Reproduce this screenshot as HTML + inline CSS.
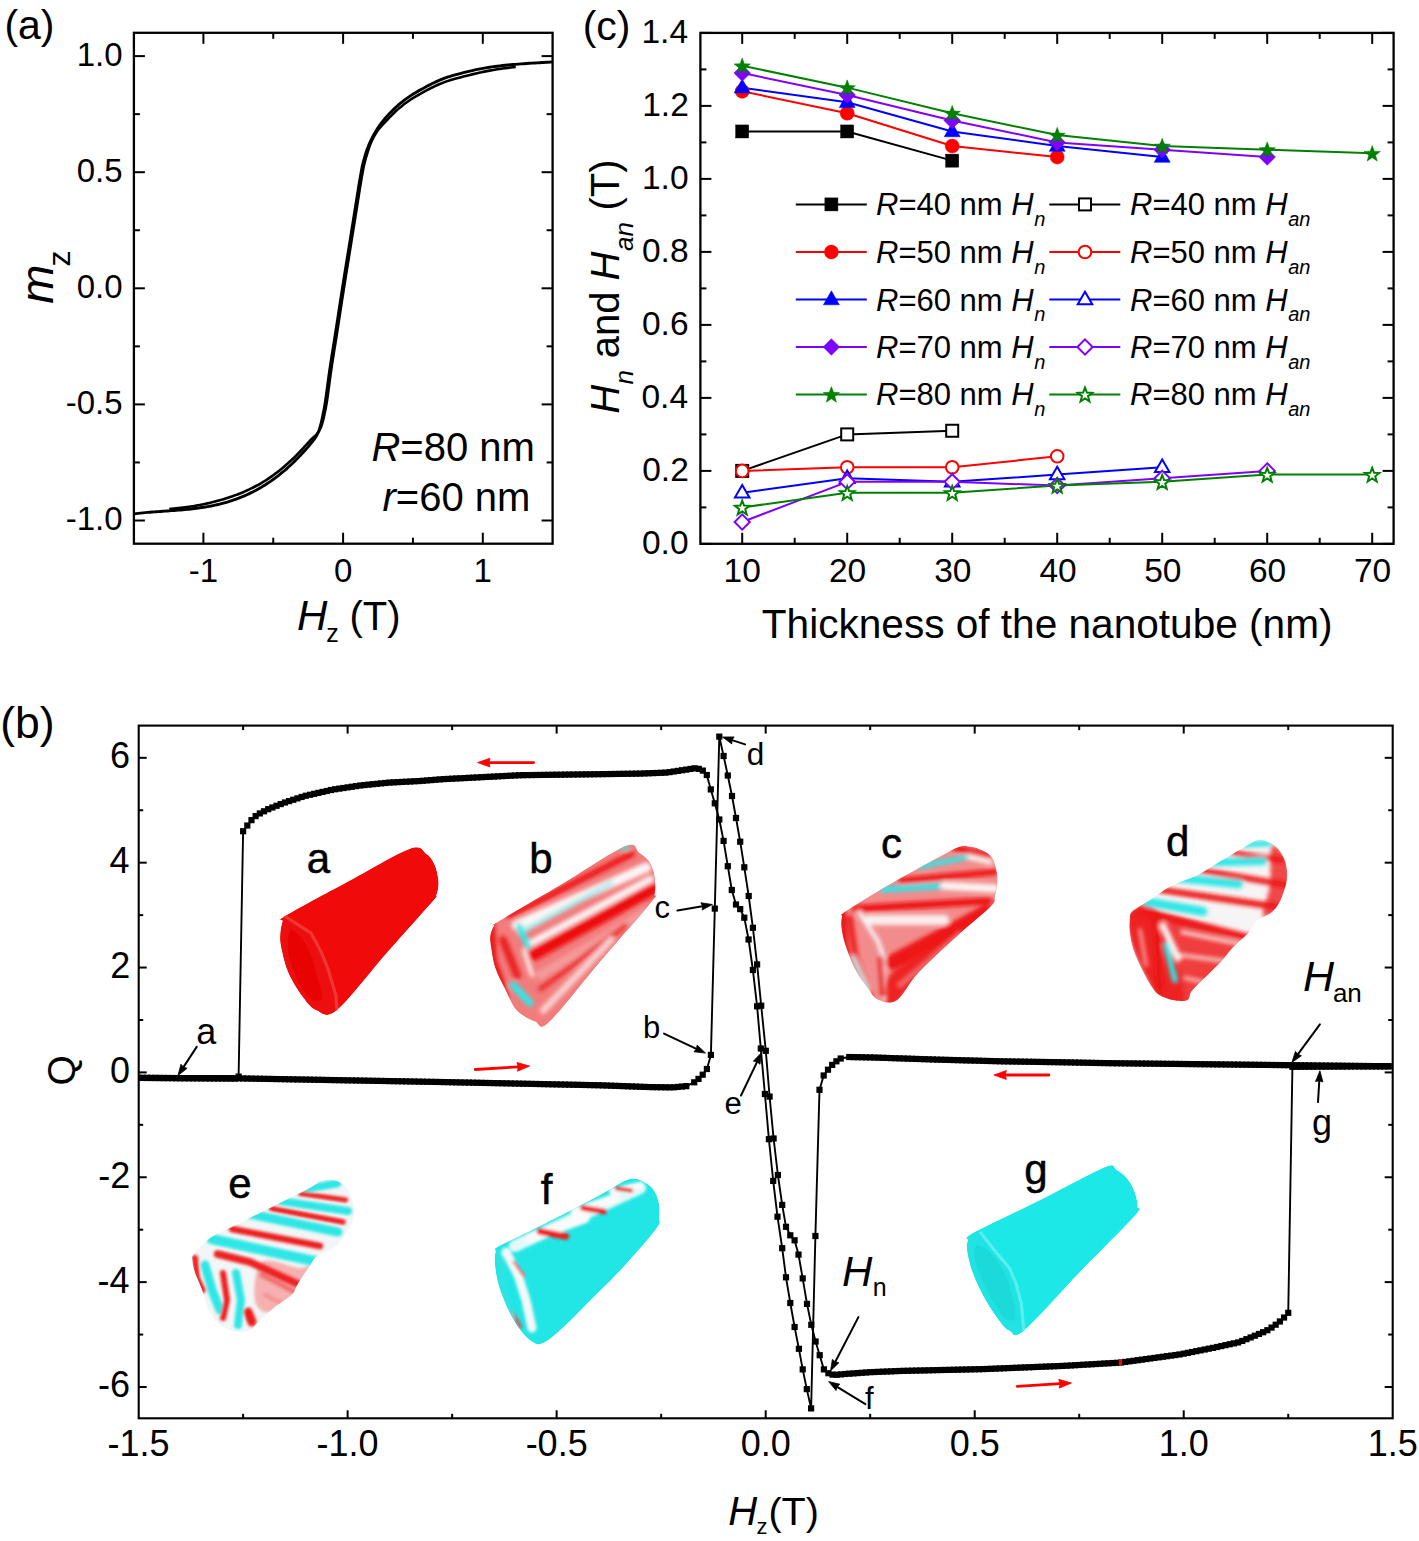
<!DOCTYPE html>
<html><head><meta charset="utf-8"><style>
html,body{margin:0;padding:0;background:#fff;}
svg{display:block;font-family:"Liberation Sans", sans-serif;}
</style></head><body>
<svg width="1419" height="1541" viewBox="0 0 1419 1541">
<rect width="1419" height="1541" fill="#fff"/>
<rect x="133.9" y="32.8" width="418.7" height="510.9" fill="none" stroke="#000" stroke-width="2.3"/>
<line x1="203.4" y1="543.7" x2="203.4" y2="532.7" stroke="#000" stroke-width="2" />
<line x1="203.4" y1="32.8" x2="203.4" y2="43.8" stroke="#000" stroke-width="2" />
<line x1="343.1" y1="543.7" x2="343.1" y2="532.7" stroke="#000" stroke-width="2" />
<line x1="343.1" y1="32.8" x2="343.1" y2="43.8" stroke="#000" stroke-width="2" />
<line x1="482.8" y1="543.7" x2="482.8" y2="532.7" stroke="#000" stroke-width="2" />
<line x1="482.8" y1="32.8" x2="482.8" y2="43.8" stroke="#000" stroke-width="2" />
<line x1="273.25" y1="543.7" x2="273.25" y2="537.7" stroke="#000" stroke-width="2" />
<line x1="273.25" y1="32.8" x2="273.25" y2="38.8" stroke="#000" stroke-width="2" />
<line x1="412.95" y1="543.7" x2="412.95" y2="537.7" stroke="#000" stroke-width="2" />
<line x1="412.95" y1="32.8" x2="412.95" y2="38.8" stroke="#000" stroke-width="2" />
<line x1="133.9" y1="520.5" x2="144.9" y2="520.5" stroke="#000" stroke-width="2" />
<line x1="552.6" y1="520.5" x2="541.6" y2="520.5" stroke="#000" stroke-width="2" />
<line x1="133.9" y1="404.4" x2="144.9" y2="404.4" stroke="#000" stroke-width="2" />
<line x1="552.6" y1="404.4" x2="541.6" y2="404.4" stroke="#000" stroke-width="2" />
<line x1="133.9" y1="288.3" x2="144.9" y2="288.3" stroke="#000" stroke-width="2" />
<line x1="552.6" y1="288.3" x2="541.6" y2="288.3" stroke="#000" stroke-width="2" />
<line x1="133.9" y1="172.2" x2="144.9" y2="172.2" stroke="#000" stroke-width="2" />
<line x1="552.6" y1="172.2" x2="541.6" y2="172.2" stroke="#000" stroke-width="2" />
<line x1="133.9" y1="56.1" x2="144.9" y2="56.1" stroke="#000" stroke-width="2" />
<line x1="552.6" y1="56.1" x2="541.6" y2="56.1" stroke="#000" stroke-width="2" />
<line x1="133.9" y1="462.45" x2="139.9" y2="462.45" stroke="#000" stroke-width="2" />
<line x1="552.6" y1="462.45" x2="546.6" y2="462.45" stroke="#000" stroke-width="2" />
<line x1="133.9" y1="346.35" x2="139.9" y2="346.35" stroke="#000" stroke-width="2" />
<line x1="552.6" y1="346.35" x2="546.6" y2="346.35" stroke="#000" stroke-width="2" />
<line x1="133.9" y1="230.25" x2="139.9" y2="230.25" stroke="#000" stroke-width="2" />
<line x1="552.6" y1="230.25" x2="546.6" y2="230.25" stroke="#000" stroke-width="2" />
<line x1="133.9" y1="114.15" x2="139.9" y2="114.15" stroke="#000" stroke-width="2" />
<line x1="552.6" y1="114.15" x2="546.6" y2="114.15" stroke="#000" stroke-width="2" />
<text x="76.7" y="65.7" font-size="33" fill="#000" >1.0</text>
<text x="76.7" y="181.8" font-size="33" fill="#000" >0.5</text>
<text x="76.7" y="297.9" font-size="33" fill="#000" >0.0</text>
<text x="65.7" y="414" font-size="33" fill="#000" >-0.5</text>
<text x="65.7" y="530.1" font-size="33" fill="#000" >-1.0</text>
<text x="203.4" y="581.7" font-size="33" fill="#000" text-anchor="middle">-1</text>
<text x="343.1" y="581.7" font-size="33" fill="#000" text-anchor="middle">0</text>
<text x="482.8" y="581.7" font-size="33" fill="#000" text-anchor="middle">1</text>
<text x="4.4" y="38.7" font-size="41" fill="#000" >(a)</text>
<text x="371.45" y="460.7" font-size="40" font-style="italic" fill="#000" >R</text>
<text x="400.34" y="460.7" font-size="40">=80 nm</text>
<text x="382.55" y="510.8" font-size="40" font-style="italic" fill="#000" >r</text>
<text x="395.87" y="510.8" font-size="40">=60 nm</text>
<text x="296.95" y="629.9" font-size="42" font-style="italic" fill="#000" >H</text>
<text x="326.2" y="642" font-size="25" fill="#000" >z</text>
<text x="349.5" y="629.9" font-size="40" fill="#000" >(T)</text>
<g transform="translate(53.3,302.9) rotate(-90)"><text x="-0.75" y="0" font-size="47" font-style="italic" fill="#000" >m</text></g>
<g transform="translate(70.2,265.2) rotate(-90)"><text x="-1.25" y="0" font-size="32" fill="#000" >z</text></g>
<clipPath id="ca"><rect x="133.9" y="32.8" width="418.7" height="510.9"/></clipPath>
<g clip-path="url(#ca)">
<polyline points="133,514 134.31,513.86 136.05,513.66 138.13,513.43 140.44,513.17 142.88,512.91 145.35,512.65 147.76,512.41 150,512.2 152.12,512.02 154.23,511.86 156.33,511.71 158.44,511.58 160.55,511.44 162.68,511.3 164.83,511.16 167,511 169.22,510.84 171.5,510.67 173.81,510.51 176.12,510.34 178.43,510.16 180.69,509.98 182.89,509.8 185,509.6 187.02,509.4 188.96,509.2 190.84,508.99 192.69,508.78 194.51,508.55 196.32,508.32 198.15,508.07 200,507.8 201.88,507.52 203.75,507.24 205.62,506.95 207.5,506.64 209.38,506.31 211.25,505.97 213.12,505.6 215,505.2 216.88,504.78 218.75,504.34 220.62,503.87 222.5,503.39 224.38,502.88 226.25,502.35 228.12,501.79 230,501.2 231.88,500.59 233.75,499.96 235.62,499.31 237.5,498.62 239.38,497.92 241.25,497.18 243.12,496.41 245,495.6 246.9,494.75 248.82,493.84 250.76,492.9 252.69,491.93 254.59,490.95 256.46,489.95 258.27,488.97 260,488 261.64,487.05 263.21,486.12 264.72,485.19 266.19,484.26 267.63,483.31 269.07,482.34 270.52,481.34 272,480.3 273.51,479.22 275.02,478.11 276.54,476.96 278.06,475.8 279.57,474.62 281.07,473.42 282.55,472.21 284,471 285.43,469.78 286.84,468.54 288.24,467.29 289.62,466.02 290.99,464.75 292.34,463.47 293.68,462.19 295,460.9 296.33,459.58 297.66,458.22 299,456.84 300.31,455.46 301.59,454.11 302.8,452.8 303.95,451.55 305,450.4 305.95,449.34 306.82,448.36 307.61,447.43 308.34,446.56 309.04,445.72 309.7,444.9 310.35,444.1 311,443.3 311.64,442.52 312.26,441.78 312.85,441.07 313.42,440.38 313.97,439.68 314.49,438.98 315.01,438.26 315.5,437.5 315.98,436.71 316.44,435.9 316.87,435.08 317.29,434.24 317.7,433.4 318.08,432.54 318.45,431.67 318.8,430.8 319.13,429.93 319.43,429.06 319.71,428.18 319.98,427.29 320.24,426.39 320.49,425.46 320.74,424.5 321,423.5 321.26,422.49 321.5,421.5 321.74,420.49 321.98,419.45 322.21,418.35 322.46,417.18 322.72,415.9 323,414.5 323.28,413.07 323.57,411.66 323.86,410.2 324.16,408.64 324.47,406.91 324.82,404.94 325.19,402.65 325.6,400 326.04,396.95 326.51,393.56 327,389.88 327.52,385.96 328.07,381.83 328.64,377.54 329.26,373.15 329.9,368.7 330.59,364.1 331.34,359.28 332.12,354.28 332.93,349.16 333.76,343.97 334.59,338.76 335.4,333.59 336.2,328.5 336.98,323.46 337.76,318.38 338.54,313.3 339.32,308.22 340.09,303.17 340.87,298.15 341.64,293.19 342.4,288.3 343.16,283.49 343.91,278.75 344.66,274.07 345.41,269.42 346.16,264.79 346.9,260.18 347.65,255.55 348.4,250.9 349.15,246.23 349.9,241.57 350.65,236.9 351.4,232.24 352.15,227.58 352.9,222.92 353.65,218.26 354.4,213.6 355.17,208.81 355.95,203.84 356.75,198.79 357.54,193.78 358.31,188.92 359.05,184.33 359.76,180.12 360.4,176.4 360.96,173.25 361.44,170.6 361.87,168.33 362.27,166.33 362.68,164.48 363.12,162.67 363.62,160.78 364.2,158.7 364.85,156.49 365.52,154.27 366.23,152.06 366.98,149.84 367.79,147.63 368.65,145.42 369.59,143.21 370.6,141 371.69,138.78 372.85,136.54 374.08,134.3 375.37,132.06 376.72,129.84 378.13,127.65 379.59,125.5 381.1,123.4 382.69,121.33 384.37,119.28 386.12,117.25 387.93,115.26 389.75,113.31 391.59,111.43 393.41,109.62 395.2,107.9 396.96,106.27 398.72,104.71 400.49,103.23 402.25,101.81 404.01,100.44 405.77,99.12 407.54,97.85 409.3,96.6 411.06,95.4 412.82,94.27 414.59,93.18 416.35,92.14 418.11,91.13 419.88,90.14 421.64,89.17 423.4,88.2 425.16,87.24 426.92,86.29 428.69,85.36 430.45,84.45 432.21,83.57 433.97,82.71 435.74,81.89 437.5,81.1 439.19,80.37 440.78,79.69 442.33,79.05 443.9,78.44 445.55,77.84 447.34,77.23 449.34,76.58 451.6,75.9 454.19,75.15 457.07,74.36 460.17,73.53 463.41,72.69 466.7,71.87 469.96,71.08 473.12,70.35 476.1,69.7 478.91,69.12 481.63,68.6 484.3,68.13 486.91,67.69 489.5,67.29 492.08,66.91 494.68,66.55 497.3,66.2 499.94,65.87 502.58,65.56 505.22,65.28 507.85,65.02 510.48,64.77 513.12,64.54 515.76,64.32 518.4,64.1 521.1,63.89 523.86,63.69 526.66,63.5 529.45,63.32 532.18,63.15 534.81,62.99 537.3,62.84 539.6,62.7 541.78,62.57 543.91,62.44 545.96,62.32 547.88,62.21 549.63,62.12 551.17,62.03 552.48,61.96 553.5,61.9" fill="none" stroke="#000" stroke-width="2.9" stroke-linejoin="round" />
<polyline points="169.22,508.95 171.5,508.77 173.81,508.58 176.12,508.37 178.43,508.15 180.69,507.91 182.89,507.65 185,507.38 187.02,507.11 188.96,506.83 190.84,506.54 192.69,506.24 194.51,505.94 196.32,505.62 198.15,505.28 200,504.92 201.88,504.55 203.75,504.18 205.62,503.79 207.5,503.39 209.38,502.97 211.25,502.54 213.12,502.08 215,501.6 216.88,501.1 218.75,500.58 220.62,500.04 222.5,499.49 224.38,498.92 226.25,498.33 228.12,497.72 230,497.09 231.88,496.45 233.75,495.79 235.62,495.12 237.5,494.43 239.38,493.72 241.25,492.98 243.12,492.21 245,491.4 246.9,490.55 248.82,489.64 250.76,488.7 252.69,487.73 254.59,486.75 256.46,485.75 258.27,484.77 260,483.8 261.64,482.85 263.21,481.92 264.72,480.99 266.19,480.06 267.63,479.11 269.07,478.14 270.52,477.14 272,476.1 273.51,475.02 275.02,473.91 276.54,472.76 278.06,471.6 279.57,470.42 281.07,469.22 282.55,468.01 284,466.8 285.43,465.58 286.84,464.34 288.24,463.09 289.62,461.82 290.99,460.55 292.34,459.27 293.68,457.99 295,456.7 296.33,455.38 297.66,454.02 299,452.64 300.31,451.26 301.59,449.91 302.8,448.6 303.95,447.35 305,446.2 305.96,445.14 306.85,444.16 307.68,443.23 308.47,442.36 309.22,441.52 309.95,440.7 310.67,439.93 311.39,439.19 312.11,438.5 312.81,437.87 313.48,437.29 314.12,436.74 314.74,436.2 315.34,435.66 315.92,435.1 316.48,434.5 317.02,433.88 317.53,433.24 318.02,432.58 318.49,431.9 318.93,431.2 319.36,430.49 319.76,429.76 320.14,429.02 320.5,428.27 320.83,427.51 321.13,426.73 321.41,425.94 321.68,425.13 321.95,424.28 322.21,423.41 322.48,422.49 322.74,421.57 322.99,420.65 323.24,419.72 323.47,418.75 323.71,417.72 323.96,416.61 324.22,415.4 324.5,414.07 324.78,412.7 325.07,411.35 325.36,409.96 325.66,408.45 325.97,406.77 326.32,404.84 326.69,402.6 327.1,399.98 327.54,396.95 328.01,393.56 328.5,389.88 329.02,385.96 329.57,381.83 330.14,377.54 330.76,373.15 331.4,368.7 332.09,364.1 332.84,359.28 333.62,354.28 334.43,349.16 335.26,343.97 336.09,338.76 336.9,333.59 337.7,328.5 338.48,323.46 339.26,318.38 340.04,313.3 340.82,308.22 341.59,303.17 342.37,298.15 343.14,293.19 343.9,288.3 344.66,283.49 345.41,278.75 346.16,274.07 346.91,269.42 347.66,264.79 348.4,260.18 349.15,255.55 349.9,250.9 350.65,246.23 351.4,241.57 352.15,236.9 352.9,232.24 353.65,227.58 354.4,222.92 355.15,218.26 355.9,213.6 356.67,208.81 357.45,203.84 358.25,198.79 359.04,193.78 359.81,188.92 360.55,184.33 361.26,180.12 361.9,176.4 362.46,173.25 362.94,170.6 363.37,168.33 363.77,166.33 364.18,164.48 364.62,162.67 365.12,160.78 365.7,158.7 366.34,156.49 366.99,154.27 367.66,152.06 368.36,149.84 369.1,147.65 369.87,145.5 370.7,143.39 371.59,141.33 372.54,139.31 373.55,137.32 374.61,135.37 375.74,133.47 376.94,131.62 378.23,129.82 379.61,128.07 381.1,126.36 382.69,124.65 384.37,122.9 386.12,121.08 387.93,119.16 389.75,117.21 391.59,115.33 393.41,113.52 395.2,111.8 396.96,110.17 398.72,108.61 400.49,107.13 402.25,105.71 404.01,104.34 405.77,103.02 407.54,101.75 409.3,100.5 411.06,99.3 412.82,98.17 414.59,97.08 416.35,96.04 418.11,95.03 419.88,94.04 421.64,93.07 423.4,92.1 425.16,91.14 426.92,90.19 428.69,89.26 430.45,88.35 432.21,87.47 433.97,86.61 435.74,85.79 437.5,85 439.19,84.27 440.78,83.59 442.33,82.95 443.9,82.34 445.55,81.74 447.34,81.13 449.34,80.48 451.6,79.8 454.19,79.05 457.07,78.26 460.17,77.43 463.41,76.59 466.7,75.75 469.96,74.92 473.12,74.13 476.1,73.41 478.91,72.76 481.63,72.17 484.3,71.61 486.91,71.1 489.5,70.62 492.08,70.16 494.68,69.71 497.3,69.28 499.94,68.88 502.58,68.5 505.22,68.16 507.85,67.85 510.48,67.56 513.12,67.3 515.76,67.05" fill="none" stroke="#000" stroke-width="2.6" stroke-linejoin="round" />
</g>
<rect x="700.4" y="32.9" width="693.2" height="510.9" fill="none" stroke="#000" stroke-width="2.3"/>
<line x1="742.2" y1="543.8" x2="742.2" y2="532.8" stroke="#000" stroke-width="2" />
<line x1="742.2" y1="32.9" x2="742.2" y2="43.9" stroke="#000" stroke-width="2" />
<line x1="847.2" y1="543.8" x2="847.2" y2="532.8" stroke="#000" stroke-width="2" />
<line x1="847.2" y1="32.9" x2="847.2" y2="43.9" stroke="#000" stroke-width="2" />
<line x1="952.2" y1="543.8" x2="952.2" y2="532.8" stroke="#000" stroke-width="2" />
<line x1="952.2" y1="32.9" x2="952.2" y2="43.9" stroke="#000" stroke-width="2" />
<line x1="1057.2" y1="543.8" x2="1057.2" y2="532.8" stroke="#000" stroke-width="2" />
<line x1="1057.2" y1="32.9" x2="1057.2" y2="43.9" stroke="#000" stroke-width="2" />
<line x1="1162.2" y1="543.8" x2="1162.2" y2="532.8" stroke="#000" stroke-width="2" />
<line x1="1162.2" y1="32.9" x2="1162.2" y2="43.9" stroke="#000" stroke-width="2" />
<line x1="1267.2" y1="543.8" x2="1267.2" y2="532.8" stroke="#000" stroke-width="2" />
<line x1="1267.2" y1="32.9" x2="1267.2" y2="43.9" stroke="#000" stroke-width="2" />
<line x1="1372.2" y1="543.8" x2="1372.2" y2="532.8" stroke="#000" stroke-width="2" />
<line x1="1372.2" y1="32.9" x2="1372.2" y2="43.9" stroke="#000" stroke-width="2" />
<line x1="794.7" y1="543.8" x2="794.7" y2="537.8" stroke="#000" stroke-width="2" />
<line x1="794.7" y1="32.9" x2="794.7" y2="38.9" stroke="#000" stroke-width="2" />
<line x1="899.7" y1="543.8" x2="899.7" y2="537.8" stroke="#000" stroke-width="2" />
<line x1="899.7" y1="32.9" x2="899.7" y2="38.9" stroke="#000" stroke-width="2" />
<line x1="1004.7" y1="543.8" x2="1004.7" y2="537.8" stroke="#000" stroke-width="2" />
<line x1="1004.7" y1="32.9" x2="1004.7" y2="38.9" stroke="#000" stroke-width="2" />
<line x1="1109.7" y1="543.8" x2="1109.7" y2="537.8" stroke="#000" stroke-width="2" />
<line x1="1109.7" y1="32.9" x2="1109.7" y2="38.9" stroke="#000" stroke-width="2" />
<line x1="1214.7" y1="543.8" x2="1214.7" y2="537.8" stroke="#000" stroke-width="2" />
<line x1="1214.7" y1="32.9" x2="1214.7" y2="38.9" stroke="#000" stroke-width="2" />
<line x1="1319.7" y1="543.8" x2="1319.7" y2="537.8" stroke="#000" stroke-width="2" />
<line x1="1319.7" y1="32.9" x2="1319.7" y2="38.9" stroke="#000" stroke-width="2" />
<line x1="700.4" y1="543.9" x2="711.4" y2="543.9" stroke="#000" stroke-width="2" />
<line x1="1393.6" y1="543.9" x2="1382.6" y2="543.9" stroke="#000" stroke-width="2" />
<line x1="700.4" y1="507.4" x2="706.4" y2="507.4" stroke="#000" stroke-width="2" />
<line x1="1393.6" y1="507.4" x2="1387.6" y2="507.4" stroke="#000" stroke-width="2" />
<line x1="700.4" y1="470.9" x2="711.4" y2="470.9" stroke="#000" stroke-width="2" />
<line x1="1393.6" y1="470.9" x2="1382.6" y2="470.9" stroke="#000" stroke-width="2" />
<line x1="700.4" y1="434.4" x2="706.4" y2="434.4" stroke="#000" stroke-width="2" />
<line x1="1393.6" y1="434.4" x2="1387.6" y2="434.4" stroke="#000" stroke-width="2" />
<line x1="700.4" y1="397.9" x2="711.4" y2="397.9" stroke="#000" stroke-width="2" />
<line x1="1393.6" y1="397.9" x2="1382.6" y2="397.9" stroke="#000" stroke-width="2" />
<line x1="700.4" y1="361.4" x2="706.4" y2="361.4" stroke="#000" stroke-width="2" />
<line x1="1393.6" y1="361.4" x2="1387.6" y2="361.4" stroke="#000" stroke-width="2" />
<line x1="700.4" y1="324.9" x2="711.4" y2="324.9" stroke="#000" stroke-width="2" />
<line x1="1393.6" y1="324.9" x2="1382.6" y2="324.9" stroke="#000" stroke-width="2" />
<line x1="700.4" y1="288.4" x2="706.4" y2="288.4" stroke="#000" stroke-width="2" />
<line x1="1393.6" y1="288.4" x2="1387.6" y2="288.4" stroke="#000" stroke-width="2" />
<line x1="700.4" y1="251.9" x2="711.4" y2="251.9" stroke="#000" stroke-width="2" />
<line x1="1393.6" y1="251.9" x2="1382.6" y2="251.9" stroke="#000" stroke-width="2" />
<line x1="700.4" y1="215.4" x2="706.4" y2="215.4" stroke="#000" stroke-width="2" />
<line x1="1393.6" y1="215.4" x2="1387.6" y2="215.4" stroke="#000" stroke-width="2" />
<line x1="700.4" y1="178.9" x2="711.4" y2="178.9" stroke="#000" stroke-width="2" />
<line x1="1393.6" y1="178.9" x2="1382.6" y2="178.9" stroke="#000" stroke-width="2" />
<line x1="700.4" y1="142.4" x2="706.4" y2="142.4" stroke="#000" stroke-width="2" />
<line x1="1393.6" y1="142.4" x2="1387.6" y2="142.4" stroke="#000" stroke-width="2" />
<line x1="700.4" y1="105.9" x2="711.4" y2="105.9" stroke="#000" stroke-width="2" />
<line x1="1393.6" y1="105.9" x2="1382.6" y2="105.9" stroke="#000" stroke-width="2" />
<line x1="700.4" y1="69.4" x2="706.4" y2="69.4" stroke="#000" stroke-width="2" />
<line x1="1393.6" y1="69.4" x2="1387.6" y2="69.4" stroke="#000" stroke-width="2" />
<line x1="700.4" y1="32.9" x2="711.4" y2="32.9" stroke="#000" stroke-width="2" />
<line x1="1393.6" y1="32.9" x2="1382.6" y2="32.9" stroke="#000" stroke-width="2" />
<text x="641.95" y="553.9" font-size="33.5" fill="#000" >0.0</text>
<text x="642.2" y="480.9" font-size="33.5" fill="#000" >0.2</text>
<text x="641.45" y="407.9" font-size="33.5" fill="#000" >0.4</text>
<text x="641.95" y="334.9" font-size="33.5" fill="#000" >0.6</text>
<text x="641.95" y="261.9" font-size="33.5" fill="#000" >0.8</text>
<text x="641.95" y="188.9" font-size="33.5" fill="#000" >1.0</text>
<text x="642.2" y="115.9" font-size="33.5" fill="#000" >1.2</text>
<text x="641.45" y="42.9" font-size="33.5" fill="#000" >1.4</text>
<text x="723.55" y="582" font-size="33.5" fill="#000" >10</text>
<text x="828.93" y="582" font-size="33.5" fill="#000" >20</text>
<text x="934.18" y="582" font-size="33.5" fill="#000" >30</text>
<text x="1039.42" y="582" font-size="33.5" fill="#000" >40</text>
<text x="1144.17" y="582" font-size="33.5" fill="#000" >50</text>
<text x="1248.92" y="582" font-size="33.5" fill="#000" >60</text>
<text x="1353.92" y="582" font-size="33.5" fill="#000" >70</text>
<text x="582.7" y="40.2" font-size="41" fill="#000" >(c)</text>
<text x="761.8" y="638.4" font-size="40.6" fill="#000" >Thickness of the nanotube (nm)</text>
<g transform="translate(619,413.75) rotate(-90)"><text x="0" y="0" font-size="40" font-style="italic">H</text><text x="29.39" y="14" font-size="26" font-style="italic">n</text><text x="44.35" y="0" font-size="40" style="white-space:pre"> and </text><text x="133.31" y="0" font-size="40" font-style="italic">H</text><text x="162.7" y="14" font-size="26" font-style="italic">an</text><text x="192.12" y="0" font-size="40" style="white-space:pre"> (T)</text></g>
<polyline points="742.2,131.45 847.2,131.45 952.2,160.65" fill="none" stroke="#000" stroke-width="2" stroke-linejoin="round" />
<polyline points="742.2,470.9 847.2,434.4 952.2,430.75" fill="none" stroke="#000" stroke-width="2" stroke-linejoin="round" />
<polyline points="742.2,91.3 847.2,113.2 952.2,146.05 1057.2,157" fill="none" stroke="#ff0000" stroke-width="2" stroke-linejoin="round" />
<polyline points="742.2,470.9 847.2,467.25 952.2,467.25 1057.2,456.3" fill="none" stroke="#ff0000" stroke-width="2" stroke-linejoin="round" />
<polyline points="742.2,87.65 847.2,102.25 952.2,131.45 1057.2,146.05 1162.2,157" fill="none" stroke="#0000ff" stroke-width="2" stroke-linejoin="round" />
<polyline points="742.2,492.8 847.2,478.2 952.2,481.85 1057.2,474.55 1162.2,467.25" fill="none" stroke="#0000ff" stroke-width="2" stroke-linejoin="round" />
<polyline points="742.2,73.05 847.2,94.95 952.2,120.5 1057.2,142.4 1162.2,149.7 1267.2,157" fill="none" stroke="#8000ff" stroke-width="2" stroke-linejoin="round" />
<polyline points="742.2,522 847.2,481.85 952.2,481.85 1057.2,485.5 1162.2,478.2 1267.2,470.9" fill="none" stroke="#8000ff" stroke-width="2" stroke-linejoin="round" />
<polyline points="742.2,65.75 847.2,87.65 952.2,113.2 1057.2,135.1 1162.2,146.05 1267.2,149.7 1372.2,153.35" fill="none" stroke="#008000" stroke-width="2" stroke-linejoin="round" />
<polyline points="742.2,507.4 847.2,492.8 952.2,492.8 1057.2,485.5 1162.2,481.85 1267.2,474.55 1372.2,474.55" fill="none" stroke="#008000" stroke-width="2" stroke-linejoin="round" />
<rect x="735.7" y="124.95" width="13" height="13" fill="#000" stroke="#000" stroke-width="0.5"/>
<rect x="840.7" y="124.95" width="13" height="13" fill="#000" stroke="#000" stroke-width="0.5"/>
<rect x="945.7" y="154.15" width="13" height="13" fill="#000" stroke="#000" stroke-width="0.5"/>
<rect x="736.2" y="464.9" width="12" height="12" fill="#fff" stroke="#000" stroke-width="2"/>
<rect x="841.2" y="428.4" width="12" height="12" fill="#fff" stroke="#000" stroke-width="2"/>
<rect x="946.2" y="424.75" width="12" height="12" fill="#fff" stroke="#000" stroke-width="2"/>
<circle cx="742.2" cy="91.3" r="7" fill="#ff0000" stroke="#ff0000" stroke-width="0.5"/>
<circle cx="847.2" cy="113.2" r="7" fill="#ff0000" stroke="#ff0000" stroke-width="0.5"/>
<circle cx="952.2" cy="146.05" r="7" fill="#ff0000" stroke="#ff0000" stroke-width="0.5"/>
<circle cx="1057.2" cy="157" r="7" fill="#ff0000" stroke="#ff0000" stroke-width="0.5"/>
<circle cx="742.2" cy="470.9" r="6.3" fill="#fff" stroke="#ff0000" stroke-width="2"/>
<circle cx="847.2" cy="467.25" r="6.3" fill="#fff" stroke="#ff0000" stroke-width="2"/>
<circle cx="952.2" cy="467.25" r="6.3" fill="#fff" stroke="#ff0000" stroke-width="2"/>
<circle cx="1057.2" cy="456.3" r="6.3" fill="#fff" stroke="#ff0000" stroke-width="2"/>
<polygon points="742.2,78.97 734.2,92.97 750.2,92.97" fill="#0000ff" stroke="#0000ff" stroke-width="0.5"/>
<polygon points="847.2,93.57 839.2,107.57 855.2,107.57" fill="#0000ff" stroke="#0000ff" stroke-width="0.5"/>
<polygon points="952.2,122.77 944.2,136.77 960.2,136.77" fill="#0000ff" stroke="#0000ff" stroke-width="0.5"/>
<polygon points="1057.2,137.37 1049.2,151.37 1065.2,151.37" fill="#0000ff" stroke="#0000ff" stroke-width="0.5"/>
<polygon points="1162.2,148.32 1154.2,162.32 1170.2,162.32" fill="#0000ff" stroke="#0000ff" stroke-width="0.5"/>
<polygon points="742.2,485.05 734.95,497.55 749.45,497.55" fill="#fff" stroke="#0000ff" stroke-width="2"/>
<polygon points="847.2,470.45 839.95,482.95 854.45,482.95" fill="#fff" stroke="#0000ff" stroke-width="2"/>
<polygon points="952.2,474.1 944.95,486.6 959.45,486.6" fill="#fff" stroke="#0000ff" stroke-width="2"/>
<polygon points="1057.2,466.8 1049.95,479.3 1064.45,479.3" fill="#fff" stroke="#0000ff" stroke-width="2"/>
<polygon points="1162.2,459.5 1154.95,472 1169.45,472" fill="#fff" stroke="#0000ff" stroke-width="2"/>
<polygon points="742.2,64.75 750.5,73.05 742.2,81.35 733.9,73.05" fill="#8000ff" stroke="#8000ff" stroke-width="0.5"/>
<polygon points="847.2,86.65 855.5,94.95 847.2,103.25 838.9,94.95" fill="#8000ff" stroke="#8000ff" stroke-width="0.5"/>
<polygon points="952.2,112.2 960.5,120.5 952.2,128.8 943.9,120.5" fill="#8000ff" stroke="#8000ff" stroke-width="0.5"/>
<polygon points="1057.2,134.1 1065.5,142.4 1057.2,150.7 1048.9,142.4" fill="#8000ff" stroke="#8000ff" stroke-width="0.5"/>
<polygon points="1162.2,141.4 1170.5,149.7 1162.2,158 1153.9,149.7" fill="#8000ff" stroke="#8000ff" stroke-width="0.5"/>
<polygon points="1267.2,148.7 1275.5,157 1267.2,165.3 1258.9,157" fill="#8000ff" stroke="#8000ff" stroke-width="0.5"/>
<polygon points="742.2,514.4 749.8,522 742.2,529.6 734.6,522" fill="#fff" stroke="#8000ff" stroke-width="2"/>
<polygon points="847.2,474.25 854.8,481.85 847.2,489.45 839.6,481.85" fill="#fff" stroke="#8000ff" stroke-width="2"/>
<polygon points="952.2,474.25 959.8,481.85 952.2,489.45 944.6,481.85" fill="#fff" stroke="#8000ff" stroke-width="2"/>
<polygon points="1057.2,477.9 1064.8,485.5 1057.2,493.1 1049.6,485.5" fill="#fff" stroke="#8000ff" stroke-width="2"/>
<polygon points="1162.2,470.6 1169.8,478.2 1162.2,485.8 1154.6,478.2" fill="#fff" stroke="#8000ff" stroke-width="2"/>
<polygon points="1267.2,463.3 1274.8,470.9 1267.2,478.5 1259.6,470.9" fill="#fff" stroke="#8000ff" stroke-width="2"/>
<polygon points="742.2,57.95 744.32,63.63 750.38,63.89 745.64,67.67 747.25,73.51 742.2,70.16 737.15,73.51 738.76,67.67 734.02,63.89 740.08,63.63" fill="#008000" stroke="#008000" stroke-width="0.5" stroke-linejoin="miter"/>
<polygon points="847.2,79.85 849.32,85.53 855.38,85.79 850.64,89.57 852.25,95.41 847.2,92.06 842.15,95.41 843.76,89.57 839.02,85.79 845.08,85.53" fill="#008000" stroke="#008000" stroke-width="0.5" stroke-linejoin="miter"/>
<polygon points="952.2,105.4 954.32,111.08 960.38,111.34 955.64,115.12 957.25,120.96 952.2,117.61 947.15,120.96 948.76,115.12 944.02,111.34 950.08,111.08" fill="#008000" stroke="#008000" stroke-width="0.5" stroke-linejoin="miter"/>
<polygon points="1057.2,127.3 1059.32,132.98 1065.38,133.24 1060.64,137.02 1062.25,142.86 1057.2,139.51 1052.15,142.86 1053.76,137.02 1049.02,133.24 1055.08,132.98" fill="#008000" stroke="#008000" stroke-width="0.5" stroke-linejoin="miter"/>
<polygon points="1162.2,138.25 1164.32,143.93 1170.38,144.19 1165.64,147.97 1167.25,153.81 1162.2,150.46 1157.15,153.81 1158.76,147.97 1154.02,144.19 1160.08,143.93" fill="#008000" stroke="#008000" stroke-width="0.5" stroke-linejoin="miter"/>
<polygon points="1267.2,141.9 1269.32,147.58 1275.38,147.84 1270.64,151.62 1272.25,157.46 1267.2,154.11 1262.15,157.46 1263.76,151.62 1259.02,147.84 1265.08,147.58" fill="#008000" stroke="#008000" stroke-width="0.5" stroke-linejoin="miter"/>
<polygon points="1372.2,145.55 1374.32,151.23 1380.38,151.49 1375.64,155.27 1377.25,161.11 1372.2,157.76 1367.15,161.11 1368.76,155.27 1364.02,151.49 1370.08,151.23" fill="#008000" stroke="#008000" stroke-width="0.5" stroke-linejoin="miter"/>
<polygon points="742.2,500.6 744.08,505.62 749.43,505.85 745.24,509.19 746.67,514.35 742.2,511.39 737.73,514.35 739.16,509.19 734.97,505.85 740.32,505.62" fill="#fff" stroke="#008000" stroke-width="2" stroke-linejoin="miter"/>
<polygon points="847.2,486 849.08,491.02 854.43,491.25 850.24,494.59 851.67,499.75 847.2,496.79 842.73,499.75 844.16,494.59 839.97,491.25 845.32,491.02" fill="#fff" stroke="#008000" stroke-width="2" stroke-linejoin="miter"/>
<polygon points="952.2,486 954.08,491.02 959.43,491.25 955.24,494.59 956.67,499.75 952.2,496.79 947.73,499.75 949.16,494.59 944.97,491.25 950.32,491.02" fill="#fff" stroke="#008000" stroke-width="2" stroke-linejoin="miter"/>
<polygon points="1057.2,478.7 1059.08,483.72 1064.43,483.95 1060.24,487.29 1061.67,492.45 1057.2,489.49 1052.73,492.45 1054.16,487.29 1049.97,483.95 1055.32,483.72" fill="#fff" stroke="#008000" stroke-width="2" stroke-linejoin="miter"/>
<polygon points="1162.2,475.05 1164.08,480.07 1169.43,480.3 1165.24,483.64 1166.67,488.8 1162.2,485.84 1157.73,488.8 1159.16,483.64 1154.97,480.3 1160.32,480.07" fill="#fff" stroke="#008000" stroke-width="2" stroke-linejoin="miter"/>
<polygon points="1267.2,467.75 1269.08,472.77 1274.43,473 1270.24,476.34 1271.67,481.5 1267.2,478.54 1262.73,481.5 1264.16,476.34 1259.97,473 1265.32,472.77" fill="#fff" stroke="#008000" stroke-width="2" stroke-linejoin="miter"/>
<polygon points="1372.2,467.75 1374.08,472.77 1379.43,473 1375.24,476.34 1376.67,481.5 1372.2,478.54 1367.73,481.5 1369.16,476.34 1364.97,473 1370.32,472.77" fill="#fff" stroke="#008000" stroke-width="2" stroke-linejoin="miter"/>
<line x1="795.8" y1="204.4" x2="866.8" y2="204.4" stroke="#000" stroke-width="2" />
<rect x="824.9" y="197.9" width="13" height="13" fill="#000" stroke="#000" stroke-width="0.5"/>
<text x="876" y="215.4" font-size="31"><tspan font-style="italic">R</tspan>=40 nm <tspan font-style="italic">H</tspan></text>
<text x="1034.16" y="226" font-size="20" font-style="italic">n</text>
<line x1="1049.3" y1="204.4" x2="1120.3" y2="204.4" stroke="#000" stroke-width="2" />
<rect x="1079" y="198.4" width="12" height="12" fill="#fff" stroke="#000" stroke-width="2"/>
<text x="1130" y="215.4" font-size="31"><tspan font-style="italic">R</tspan>=40 nm <tspan font-style="italic">H</tspan></text>
<text x="1288.16" y="226" font-size="20" font-style="italic">an</text>
<line x1="795.8" y1="252" x2="866.8" y2="252" stroke="#ff0000" stroke-width="2" />
<circle cx="831.4" cy="252" r="7" fill="#ff0000" stroke="#ff0000" stroke-width="0.5"/>
<text x="876" y="263" font-size="31"><tspan font-style="italic">R</tspan>=50 nm <tspan font-style="italic">H</tspan></text>
<text x="1034.16" y="273.6" font-size="20" font-style="italic">n</text>
<line x1="1049.3" y1="252" x2="1120.3" y2="252" stroke="#ff0000" stroke-width="2" />
<circle cx="1085" cy="252" r="6.3" fill="#fff" stroke="#ff0000" stroke-width="2"/>
<text x="1130" y="263" font-size="31"><tspan font-style="italic">R</tspan>=50 nm <tspan font-style="italic">H</tspan></text>
<text x="1288.16" y="273.6" font-size="20" font-style="italic">an</text>
<line x1="795.8" y1="299.5" x2="866.8" y2="299.5" stroke="#0000ff" stroke-width="2" />
<polygon points="831.4,290.82 823.4,304.82 839.4,304.82" fill="#0000ff" stroke="#0000ff" stroke-width="0.5"/>
<text x="876" y="310.5" font-size="31"><tspan font-style="italic">R</tspan>=60 nm <tspan font-style="italic">H</tspan></text>
<text x="1034.16" y="321.1" font-size="20" font-style="italic">n</text>
<line x1="1049.3" y1="299.5" x2="1120.3" y2="299.5" stroke="#0000ff" stroke-width="2" />
<polygon points="1085,291.75 1077.75,304.25 1092.25,304.25" fill="#fff" stroke="#0000ff" stroke-width="2"/>
<text x="1130" y="310.5" font-size="31"><tspan font-style="italic">R</tspan>=60 nm <tspan font-style="italic">H</tspan></text>
<text x="1288.16" y="321.1" font-size="20" font-style="italic">an</text>
<line x1="795.8" y1="347" x2="866.8" y2="347" stroke="#8000ff" stroke-width="2" />
<polygon points="831.4,338.7 839.7,347 831.4,355.3 823.1,347" fill="#8000ff" stroke="#8000ff" stroke-width="0.5"/>
<text x="876" y="358" font-size="31"><tspan font-style="italic">R</tspan>=70 nm <tspan font-style="italic">H</tspan></text>
<text x="1034.16" y="368.6" font-size="20" font-style="italic">n</text>
<line x1="1049.3" y1="347" x2="1120.3" y2="347" stroke="#8000ff" stroke-width="2" />
<polygon points="1085,339.4 1092.6,347 1085,354.6 1077.4,347" fill="#fff" stroke="#8000ff" stroke-width="2"/>
<text x="1130" y="358" font-size="31"><tspan font-style="italic">R</tspan>=70 nm <tspan font-style="italic">H</tspan></text>
<text x="1288.16" y="368.6" font-size="20" font-style="italic">an</text>
<line x1="795.8" y1="394.4" x2="866.8" y2="394.4" stroke="#008000" stroke-width="2" />
<polygon points="831.4,386.6 833.52,392.28 839.58,392.54 834.84,396.32 836.45,402.16 831.4,398.81 826.35,402.16 827.96,396.32 823.22,392.54 829.28,392.28" fill="#008000" stroke="#008000" stroke-width="0.5" stroke-linejoin="miter"/>
<text x="876" y="405.4" font-size="31"><tspan font-style="italic">R</tspan>=80 nm <tspan font-style="italic">H</tspan></text>
<text x="1034.16" y="416" font-size="20" font-style="italic">n</text>
<line x1="1049.3" y1="394.4" x2="1120.3" y2="394.4" stroke="#008000" stroke-width="2" />
<polygon points="1085,387.6 1086.88,392.62 1092.23,392.85 1088.04,396.19 1089.47,401.35 1085,398.39 1080.53,401.35 1081.96,396.19 1077.77,392.85 1083.12,392.62" fill="#fff" stroke="#008000" stroke-width="2" stroke-linejoin="miter"/>
<text x="1130" y="405.4" font-size="31"><tspan font-style="italic">R</tspan>=80 nm <tspan font-style="italic">H</tspan></text>
<text x="1288.16" y="416" font-size="20" font-style="italic">an</text>
<clipPath id="cla"><path d="M285.4,915.8 C296.13,909.22 326.33,893.15 347,882 C367.67,870.85 396.18,853.6 409.4,848.9 C422.62,844.2 422.07,851.1 426.3,853.8 C430.53,856.5 432.8,860.87 434.8,865.1 C436.8,869.33 437.72,875.43 438.3,879.2 C438.88,882.97 438.65,884.88 438.3,887.7 C437.95,890.52 436.78,894.23 436.2,896.1 C435.62,897.97 443.17,889.25 434.8,898.9 C426.43,908.55 402.33,935.43 386,954 C369.67,972.57 348.4,1000.92 336.8,1010.3 C325.2,1019.68 322.15,1012.65 316.4,1010.3 C310.65,1007.95 307,1002.55 302.3,996.2 C297.6,989.85 291.73,980.43 288.2,972.2 C284.67,963.97 282.4,953.37 281.1,946.8 C279.8,940.23 280.15,937.02 280.4,932.8 C280.65,928.58 281.77,924.33 282.6,921.5 C283.43,918.67 274.67,922.38 285.4,915.8Z"/></clipPath>
<g clip-path="url(#cla)">
<path d="M285.4,915.8 C296.13,909.22 326.33,893.15 347,882 C367.67,870.85 396.18,853.6 409.4,848.9 C422.62,844.2 422.07,851.1 426.3,853.8 C430.53,856.5 432.8,860.87 434.8,865.1 C436.8,869.33 437.72,875.43 438.3,879.2 C438.88,882.97 438.65,884.88 438.3,887.7 C437.95,890.52 436.78,894.23 436.2,896.1 C435.62,897.97 443.17,889.25 434.8,898.9 C426.43,908.55 402.33,935.43 386,954 C369.67,972.57 348.4,1000.92 336.8,1010.3 C325.2,1019.68 322.15,1012.65 316.4,1010.3 C310.65,1007.95 307,1002.55 302.3,996.2 C297.6,989.85 291.73,980.43 288.2,972.2 C284.67,963.97 282.4,953.37 281.1,946.8 C279.8,940.23 280.15,937.02 280.4,932.8 C280.65,928.58 281.77,924.33 282.6,921.5 C283.43,918.67 274.67,922.38 285.4,915.8Z" fill="#f00a0a"/>
<path d="M285.4,915.8 C288.22,916.5 295.28,922.87 299.5,925.7 C303.72,928.53 307.88,929.98 310.7,932.8 C313.52,935.62 314.52,939.08 316.4,942.6 C318.28,946.12 320.12,949.67 322,953.9 C323.88,958.13 326.05,963.3 327.7,968 C329.35,972.7 330.5,977.4 331.9,982.1 C333.3,986.8 335.28,991.5 336.1,996.2 C336.92,1000.9 340.08,1007.95 336.8,1010.3 C333.52,1012.65 322.15,1012.65 316.4,1010.3 C310.65,1007.95 307,1002.55 302.3,996.2 C297.6,989.85 291.73,980.43 288.2,972.2 C284.67,963.97 282.4,953.37 281.1,946.8 C279.8,940.23 280.15,937.02 280.4,932.8 C280.65,928.58 281.77,924.33 282.6,921.5 C283.43,918.67 282.58,915.1 285.4,915.8Z" fill="#ec1010" opacity="0.9"/>
<path d="M292,930 C294.5,930 299.67,935.33 303,940 C306.33,944.67 309.5,951.33 312,958 C314.5,964.67 316.33,973.33 318,980 C319.67,986.67 323,994.67 322,998 C321,1001.33 315.67,1002.17 312,1000 C308.33,997.83 303.67,991.67 300,985 C296.33,978.33 292,967.5 290,960 C288,952.5 287.67,945 288,940 C288.33,935 289.5,930 292,930Z" fill="#e80000" opacity="0.85"/>
<path d="M286,917 L299.5,925.7 L310.7,932.8 L316.4,942.6 L322,953.9 L327.7,968 L331.9,982.1 L336.1,996.2 L336.8,1010.3" fill="none" stroke="#f23a3a" stroke-width="3.2" stroke-linecap="round" stroke-linejoin="round" opacity="0.9"/>
</g>
<clipPath id="clg"><path d="M973,1233 C985.03,1226.2 1018.05,1210.97 1040,1200 C1061.95,1189.03 1091.95,1172.23 1104.7,1167.2 C1117.45,1162.17 1112.8,1167.95 1116.5,1169.8 C1120.2,1171.65 1124.08,1175.15 1126.9,1178.3 C1129.72,1181.45 1131.77,1185.23 1133.4,1188.7 C1135.03,1192.17 1136.05,1196.07 1136.7,1199.1 C1137.35,1202.13 1137.63,1204.07 1137.3,1206.9 C1136.97,1209.73 1144.25,1205.25 1134.7,1216.1 C1125.15,1226.95 1098.47,1252.88 1080,1272 C1061.53,1291.12 1035.65,1321 1023.9,1330.8 C1012.15,1340.6 1013.63,1332.53 1009.5,1330.8 C1005.37,1329.07 1003,1325.4 999.1,1320.4 C995.2,1315.4 990.45,1308.63 986.1,1300.8 C981.75,1292.97 976.15,1281.65 973,1273.4 C969.85,1265.15 968.07,1256.73 967.2,1251.3 C966.33,1245.87 966.83,1243.85 967.8,1240.8 C968.77,1237.75 960.97,1239.8 973,1233Z"/></clipPath>
<g clip-path="url(#clg)">
<path d="M973,1233 C985.03,1226.2 1018.05,1210.97 1040,1200 C1061.95,1189.03 1091.95,1172.23 1104.7,1167.2 C1117.45,1162.17 1112.8,1167.95 1116.5,1169.8 C1120.2,1171.65 1124.08,1175.15 1126.9,1178.3 C1129.72,1181.45 1131.77,1185.23 1133.4,1188.7 C1135.03,1192.17 1136.05,1196.07 1136.7,1199.1 C1137.35,1202.13 1137.63,1204.07 1137.3,1206.9 C1136.97,1209.73 1144.25,1205.25 1134.7,1216.1 C1125.15,1226.95 1098.47,1252.88 1080,1272 C1061.53,1291.12 1035.65,1321 1023.9,1330.8 C1012.15,1340.6 1013.63,1332.53 1009.5,1330.8 C1005.37,1329.07 1003,1325.4 999.1,1320.4 C995.2,1315.4 990.45,1308.63 986.1,1300.8 C981.75,1292.97 976.15,1281.65 973,1273.4 C969.85,1265.15 968.07,1256.73 967.2,1251.3 C966.33,1245.87 966.83,1243.85 967.8,1240.8 C968.77,1237.75 960.97,1239.8 973,1233Z" fill="#1de8e8"/>
<path d="M973,1233 C975.18,1231.7 977.2,1229.95 980.9,1233 C984.6,1236.05 990.43,1245.43 995.2,1251.3 C999.97,1257.17 1006.02,1262.77 1009.5,1268.2 C1012.98,1273.63 1014.13,1278.03 1016.1,1283.9 C1018.07,1289.77 1020,1295.58 1021.3,1303.4 C1022.6,1311.22 1025.87,1326.23 1023.9,1330.8 C1021.93,1335.37 1013.63,1332.53 1009.5,1330.8 C1005.37,1329.07 1003,1325.4 999.1,1320.4 C995.2,1315.4 990.45,1308.63 986.1,1300.8 C981.75,1292.97 976.15,1281.65 973,1273.4 C969.85,1265.15 968.07,1256.73 967.2,1251.3 C966.33,1245.87 966.83,1243.85 967.8,1240.8 C968.77,1237.75 970.82,1234.3 973,1233Z" fill="#22e2e2" opacity="0.9"/>
<path d="M976,1246 C978.5,1245 985.33,1247.67 990,1252 C994.67,1256.33 1000.33,1264.83 1004,1272 C1007.67,1279.17 1010.17,1287.33 1012,1295 C1013.83,1302.67 1016.17,1314.17 1015,1318 C1013.83,1321.83 1008.83,1321 1005,1318 C1001.17,1315 996.17,1307.17 992,1300 C987.83,1292.83 982.83,1282 980,1275 C977.17,1268 975.67,1262.83 975,1258 C974.33,1253.17 973.5,1247 976,1246Z" fill="#1cd8d8" opacity="0.85"/>
<path d="M980.9,1233 L995.2,1251.3 L1009.5,1268.2 L1016.1,1283.9 L1021.3,1303.4 L1023.9,1330.8" fill="none" stroke="#5ef0f0" stroke-width="3.2" stroke-linecap="round" stroke-linejoin="round" opacity="0.9"/>
</g>
<clipPath id="clb"><path d="M498.2,921.5 C509.53,914.55 540.87,896.57 562,884 C583.13,871.43 612.15,851.37 625,846.1 C637.85,840.83 635.1,849.93 639.1,852.4 C643.1,854.87 646.53,857.6 649,860.9 C651.47,864.2 652.85,868.45 653.9,872.2 C654.95,875.95 655.18,879.65 655.3,883.4 C655.42,887.15 655.18,891.65 654.6,894.7 C654.02,897.75 660.9,890.48 651.8,901.7 C642.7,912.92 617.13,941.9 600,962 C582.87,982.1 559.87,1012.38 549,1022.3 C538.13,1032.22 540.22,1023.5 534.8,1021.5 C529.38,1019.5 521.43,1015.7 516.5,1010.3 C511.57,1004.9 508.72,996.15 505.2,989.1 C501.68,982.05 497.75,975.05 495.4,968 C493.05,960.95 491.93,952.2 491.1,946.8 C490.27,941.4 489.92,939.12 490.4,935.6 C490.88,932.08 492.7,928.05 494,925.7 C495.3,923.35 486.87,928.45 498.2,921.5Z"/></clipPath>
<g clip-path="url(#clb)">
<path d="M498.2,921.5 C509.53,914.55 540.87,896.57 562,884 C583.13,871.43 612.15,851.37 625,846.1 C637.85,840.83 635.1,849.93 639.1,852.4 C643.1,854.87 646.53,857.6 649,860.9 C651.47,864.2 652.85,868.45 653.9,872.2 C654.95,875.95 655.18,879.65 655.3,883.4 C655.42,887.15 655.18,891.65 654.6,894.7 C654.02,897.75 660.9,890.48 651.8,901.7 C642.7,912.92 617.13,941.9 600,962 C582.87,982.1 559.87,1012.38 549,1022.3 C538.13,1032.22 540.22,1023.5 534.8,1021.5 C529.38,1019.5 521.43,1015.7 516.5,1010.3 C511.57,1004.9 508.72,996.15 505.2,989.1 C501.68,982.05 497.75,975.05 495.4,968 C493.05,960.95 491.93,952.2 491.1,946.8 C490.27,941.4 489.92,939.12 490.4,935.6 C490.88,932.08 492.7,928.05 494,925.7 C495.3,923.35 486.87,928.45 498.2,921.5Z" fill="#f27c7c"/>
<filter id="blb" x="-20%" y="-20%" width="140%" height="140%"><feGaussianBlur stdDeviation="2.0"/></filter>
<g filter="url(#blb)"><path d="M509.5,915.8 L632.1,853.8" fill="none" stroke="#ee1212" stroke-width="6" stroke-linecap="round" stroke-linejoin="round" opacity="1"/><path d="M618,847 L628,848" fill="none" stroke="#40e8e8" stroke-width="4" stroke-linecap="round" stroke-linejoin="round" opacity="1"/><path d="M516.5,925.3 L646.2,867.5" fill="none" stroke="#fcf6f6" stroke-width="10" stroke-linecap="round" stroke-linejoin="round" opacity="1"/><path d="M519.3,932.8 L611,883.4" fill="none" stroke="#a8eeee" stroke-width="5" stroke-linecap="round" stroke-linejoin="round" opacity="1"/><path d="M529.2,944 L650.4,879.2" fill="none" stroke="#fbf4f4" stroke-width="7" stroke-linecap="round" stroke-linejoin="round" opacity="1"/><path d="M533.4,955 L653.2,889" fill="none" stroke="#ee1010" stroke-width="12" stroke-linecap="round" stroke-linejoin="round" opacity="1"/><path d="M540.5,975 L646.2,911.6" fill="none" stroke="#f49a9a" stroke-width="9" stroke-linecap="round" stroke-linejoin="round" opacity="1"/><path d="M540.5,989.1 L625,925.7" fill="none" stroke="#ee2a2a" stroke-width="5" stroke-linecap="round" stroke-linejoin="round" opacity="1"/><path d="M543.3,1010.3 L611,939.8" fill="none" stroke="#f8d0d0" stroke-width="7" stroke-linecap="round" stroke-linejoin="round" opacity="1"/><path d="M491,926 L493,960 L505,995" fill="none" stroke="#e81414" stroke-width="8" stroke-linecap="round" stroke-linejoin="round" opacity="1"/><path d="M503,940 L517,975" fill="none" stroke="#ea2020" stroke-width="8" stroke-linecap="round" stroke-linejoin="round" opacity="1"/><path d="M519,926 L528,946" fill="none" stroke="#2ee8e8" stroke-width="6" stroke-linecap="round" stroke-linejoin="round" opacity="1"/><path d="M513,985 L530,1003" fill="none" stroke="#2ee8e8" stroke-width="7" stroke-linecap="round" stroke-linejoin="round" opacity="1"/><path d="M524,950 L532,975" fill="none" stroke="#fbf4f4" stroke-width="4" stroke-linecap="round" stroke-linejoin="round" opacity="1"/></g>
</g>
<clipPath id="clc"><path d="M844,912.5 C850.43,908.05 868.23,897 880.7,889.6 C893.17,882.2 906.1,875.07 918.8,868.1 C931.5,861.13 948.45,851.4 956.9,847.8 C965.35,844.2 965.28,846.08 969.5,846.5 C973.72,846.92 978.38,848.4 982.2,850.3 C986.02,852.2 989.97,854.3 992.4,857.9 C994.83,861.5 995.97,867.47 996.8,871.9 C997.63,876.33 997.72,880.28 997.4,884.5 C997.08,888.72 995.95,893.6 994.9,897.2 C993.85,900.8 997.33,899.73 991.1,906.1 C984.87,912.47 969.55,924.4 957.5,935.4 C945.45,946.4 928.85,961.33 918.8,972.1 C908.75,982.87 903.97,995.35 897.2,1000 C890.43,1004.65 883.05,1001.9 878.2,1000 C873.35,998.1 871.9,993.68 868.1,988.6 C864.3,983.52 859.22,976.9 855.4,969.5 C851.58,962.1 847.53,951.38 845.2,944.2 C842.87,937.02 841.92,931.05 841.4,926.4 C840.88,921.75 841.67,918.62 842.1,916.3 C842.53,913.98 837.57,916.95 844,912.5Z"/></clipPath>
<g clip-path="url(#clc)">
<path d="M844,912.5 C850.43,908.05 868.23,897 880.7,889.6 C893.17,882.2 906.1,875.07 918.8,868.1 C931.5,861.13 948.45,851.4 956.9,847.8 C965.35,844.2 965.28,846.08 969.5,846.5 C973.72,846.92 978.38,848.4 982.2,850.3 C986.02,852.2 989.97,854.3 992.4,857.9 C994.83,861.5 995.97,867.47 996.8,871.9 C997.63,876.33 997.72,880.28 997.4,884.5 C997.08,888.72 995.95,893.6 994.9,897.2 C993.85,900.8 997.33,899.73 991.1,906.1 C984.87,912.47 969.55,924.4 957.5,935.4 C945.45,946.4 928.85,961.33 918.8,972.1 C908.75,982.87 903.97,995.35 897.2,1000 C890.43,1004.65 883.05,1001.9 878.2,1000 C873.35,998.1 871.9,993.68 868.1,988.6 C864.3,983.52 859.22,976.9 855.4,969.5 C851.58,962.1 847.53,951.38 845.2,944.2 C842.87,937.02 841.92,931.05 841.4,926.4 C840.88,921.75 841.67,918.62 842.1,916.3 C842.53,913.98 837.57,916.95 844,912.5Z" fill="#f28c8c"/>
<path d="M890,975 C899.17,964.5 923.67,951.67 940,940 C956.33,928.33 978.67,911.67 988,905 C997.33,898.33 1000.67,895 996,900 C991.33,905 972.67,922.5 960,935 C947.33,947.5 930.5,963.67 920,975 C909.5,986.33 902.83,998.33 897,1003 C891.17,1007.67 886.17,1007.67 885,1003 C883.83,998.33 880.83,985.5 890,975Z" fill="#ee2020" filter="url(#blc)"/>
<filter id="blc" x="-20%" y="-20%" width="140%" height="140%"><feGaussianBlur stdDeviation="2.0"/></filter>
<g filter="url(#blc)"><path d="M954.3,847.8 L988.6,855.4" fill="none" stroke="#ee1010" stroke-width="6" stroke-linecap="round" stroke-linejoin="round" opacity="1"/><path d="M918.8,866.8 L969.5,856.6" fill="none" stroke="#2ee6e6" stroke-width="5" stroke-linecap="round" stroke-linejoin="round" opacity="1"/><path d="M969.5,857 L990,862" fill="none" stroke="#fbf4f4" stroke-width="5" stroke-linecap="round" stroke-linejoin="round" opacity="1"/><path d="M901,880.7 L994.9,871.9" fill="none" stroke="#ee1010" stroke-width="6" stroke-linecap="round" stroke-linejoin="round" opacity="1"/><path d="M883.3,889.6 L944.2,885.8" fill="none" stroke="#2ee6e6" stroke-width="6" stroke-linecap="round" stroke-linejoin="round" opacity="1"/><path d="M944.2,885.8 L994.9,888.4" fill="none" stroke="#fbf4f4" stroke-width="8" stroke-linecap="round" stroke-linejoin="round" opacity="1"/><path d="M855.4,908.7 L988.6,901" fill="none" stroke="#ee1010" stroke-width="7" stroke-linecap="round" stroke-linejoin="round" opacity="1"/><path d="M868.1,920 L944.2,920" fill="none" stroke="#fbeeee" stroke-width="10" stroke-linecap="round" stroke-linejoin="round" opacity="1"/><path d="M893.4,962 L985,913.5" fill="none" stroke="#ee1212" stroke-width="16" stroke-linecap="round" stroke-linejoin="round" opacity="1"/><path d="M850,918 L856,960 L870,996" fill="none" stroke="#ee2020" stroke-width="6" stroke-linecap="round" stroke-linejoin="round" opacity="1"/><path d="M900,985 L960,935" fill="none" stroke="#f06a6a" stroke-width="6" stroke-linecap="round" stroke-linejoin="round" opacity="1"/><path d="M842,913 L845,950 L856,985" fill="none" stroke="#e81414" stroke-width="8" stroke-linecap="round" stroke-linejoin="round" opacity="1"/><path d="M859.2,912.5 L878.2,941.6 L883.3,956.9 L884.5,1000" fill="none" stroke="#f4fbfb" stroke-width="4" stroke-linecap="round" stroke-linejoin="round" opacity="1"/><path d="M853,957 L868,990" fill="none" stroke="#bff2f2" stroke-width="4" stroke-linecap="round" stroke-linejoin="round" opacity="1"/><path d="M880.7,958 L883.3,995" fill="none" stroke="#ea1a1a" stroke-width="5" stroke-linecap="round" stroke-linejoin="round" opacity="1"/></g>
</g>
<clipPath id="cld"><path d="M1132.2,911.5 C1135.4,908.3 1142.22,905.1 1149,900.7 C1155.78,896.3 1164.92,889.3 1172.9,885.1 C1180.88,880.9 1188.92,879.5 1196.9,875.5 C1204.88,871.5 1212.82,865.88 1220.8,861.1 C1228.78,856.32 1238.8,850.28 1244.8,846.8 C1250.8,843.32 1253.8,841.3 1256.8,840.2 C1259.8,839.1 1259.8,839.3 1262.8,840.2 C1265.8,841.1 1271.42,842.9 1274.8,845.6 C1278.18,848.3 1281.12,852.62 1283.1,856.4 C1285.08,860.18 1286.1,864.32 1286.7,868.3 C1287.3,872.28 1287.3,876.1 1286.7,880.3 C1286.1,884.5 1284.5,889.5 1283.1,893.5 C1281.7,897.5 1280.28,901.1 1278.3,904.3 C1276.32,907.5 1274.78,909.9 1271.2,912.7 C1267.62,915.5 1260.4,917.92 1256.8,921.1 C1253.2,924.28 1253.6,927.42 1249.6,931.8 C1245.6,936.18 1237.6,942.4 1232.8,947.4 C1228,952.4 1224.78,957.4 1220.8,961.8 C1216.82,966.2 1213.68,969.02 1208.9,973.8 C1204.12,978.58 1195.7,986.12 1192.1,990.5 C1188.5,994.88 1190.5,998.5 1187.3,1000.1 C1184.1,1001.7 1177.5,1000.9 1172.9,1000.1 C1168.3,999.3 1163.08,997.3 1159.7,995.3 C1156.32,993.3 1155.38,992.08 1152.6,988.1 C1149.82,984.12 1146.2,977.78 1143,971.4 C1139.8,965.02 1135.6,956.4 1133.4,949.8 C1131.2,943.2 1130.4,936.78 1129.8,931.8 C1129.2,926.82 1129.4,923.28 1129.8,919.9 C1130.2,916.52 1129,914.7 1132.2,911.5Z"/></clipPath>
<g clip-path="url(#cld)">
<path d="M1132.2,911.5 C1135.4,908.3 1142.22,905.1 1149,900.7 C1155.78,896.3 1164.92,889.3 1172.9,885.1 C1180.88,880.9 1188.92,879.5 1196.9,875.5 C1204.88,871.5 1212.82,865.88 1220.8,861.1 C1228.78,856.32 1238.8,850.28 1244.8,846.8 C1250.8,843.32 1253.8,841.3 1256.8,840.2 C1259.8,839.1 1259.8,839.3 1262.8,840.2 C1265.8,841.1 1271.42,842.9 1274.8,845.6 C1278.18,848.3 1281.12,852.62 1283.1,856.4 C1285.08,860.18 1286.1,864.32 1286.7,868.3 C1287.3,872.28 1287.3,876.1 1286.7,880.3 C1286.1,884.5 1284.5,889.5 1283.1,893.5 C1281.7,897.5 1280.28,901.1 1278.3,904.3 C1276.32,907.5 1274.78,909.9 1271.2,912.7 C1267.62,915.5 1260.4,917.92 1256.8,921.1 C1253.2,924.28 1253.6,927.42 1249.6,931.8 C1245.6,936.18 1237.6,942.4 1232.8,947.4 C1228,952.4 1224.78,957.4 1220.8,961.8 C1216.82,966.2 1213.68,969.02 1208.9,973.8 C1204.12,978.58 1195.7,986.12 1192.1,990.5 C1188.5,994.88 1190.5,998.5 1187.3,1000.1 C1184.1,1001.7 1177.5,1000.9 1172.9,1000.1 C1168.3,999.3 1163.08,997.3 1159.7,995.3 C1156.32,993.3 1155.38,992.08 1152.6,988.1 C1149.82,984.12 1146.2,977.78 1143,971.4 C1139.8,965.02 1135.6,956.4 1133.4,949.8 C1131.2,943.2 1130.4,936.78 1129.8,931.8 C1129.2,926.82 1129.4,923.28 1129.8,919.9 C1130.2,916.52 1129,914.7 1132.2,911.5Z" fill="#f6f4f4"/>
<path d="M1150,916 C1154,910.17 1183.33,921.33 1200,925 C1216.67,928.67 1234.67,941.33 1250,938 C1265.33,934.67 1285,892.67 1292,905 C1299,917.33 1310.67,994.17 1292,1012 C1273.33,1029.83 1199.33,1020.67 1180,1012 C1160.67,1003.33 1181,976 1176,960 C1171,944 1146,921.83 1150,916Z" fill="#f03c3c" filter="url(#bld)"/>
<path d="M1128,912 C1130.83,907.67 1139.67,903.5 1145,904 C1150.33,904.5 1155.83,909.83 1160,915 C1164.17,920.17 1167,927.5 1170,935 C1173,942.5 1175.67,948.5 1178,960 C1180.33,971.5 1185.33,996.67 1184,1004 C1182.67,1011.33 1174.67,1005.33 1170,1004 C1165.33,1002.67 1160,1000.33 1156,996 C1152,991.67 1149.67,985.33 1146,978 C1142.33,970.67 1137,960 1134,952 C1131,944 1129,936.67 1128,930 C1127,923.33 1125.17,916.33 1128,912Z" fill="#ee2222" filter="url(#bld)"/>
<path d="M1272,846 C1275,842.17 1285.17,854.33 1288,862 C1290.83,869.67 1290.5,884.17 1289,892 C1287.5,899.83 1283.33,905 1279,909 C1274.67,913 1264.5,920 1263,916 C1261.5,912 1268.5,896.67 1270,885 C1271.5,873.33 1269,849.83 1272,846Z" fill="#f04848" filter="url(#bld)"/>
<filter id="bld" x="-20%" y="-20%" width="140%" height="140%"><feGaussianBlur stdDeviation="1.9"/></filter>
<g filter="url(#bld)"><path d="M1244.8,844.4 L1268.8,843.2" fill="none" stroke="#2ee6e6" stroke-width="6" stroke-linecap="round" stroke-linejoin="round" opacity="1"/><path d="M1232.8,852.8 L1282,860" fill="none" stroke="#ee1414" stroke-width="5.5" stroke-linecap="round" stroke-linejoin="round" opacity="1"/><path d="M1208.9,862.3 L1262.8,861.1" fill="none" stroke="#2ee6e6" stroke-width="8" stroke-linecap="round" stroke-linejoin="round" opacity="1"/><path d="M1196.9,869.5 L1287,885.1" fill="none" stroke="#ee1414" stroke-width="6" stroke-linecap="round" stroke-linejoin="round" opacity="1"/><path d="M1178.9,877.9 L1238.8,883.9" fill="none" stroke="#2ee6e6" stroke-width="8.5" stroke-linecap="round" stroke-linejoin="round" opacity="1"/><path d="M1160.9,889.9 L1276,906.7" fill="none" stroke="#ee1414" stroke-width="6.5" stroke-linecap="round" stroke-linejoin="round" opacity="1"/><path d="M1146.6,901.9 L1202.9,911.5" fill="none" stroke="#2ee6e6" stroke-width="9" stroke-linecap="round" stroke-linejoin="round" opacity="1"/><path d="M1143,911.5 L1248,937.8" fill="none" stroke="#ee1414" stroke-width="8" stroke-linecap="round" stroke-linejoin="round" opacity="1"/><path d="M1182,932 L1250,946" fill="none" stroke="#f8d8d8" stroke-width="4" stroke-linecap="round" stroke-linejoin="round" opacity="1"/><path d="M1180,955 L1232,962" fill="none" stroke="#f6c8c8" stroke-width="4" stroke-linecap="round" stroke-linejoin="round" opacity="1"/><path d="M1185,978 L1212,984" fill="none" stroke="#f6c0c0" stroke-width="3.5" stroke-linecap="round" stroke-linejoin="round" opacity="1"/><path d="M1163,926 L1178,958" fill="none" stroke="#fbf4f4" stroke-width="7" stroke-linecap="round" stroke-linejoin="round" opacity="1"/><path d="M1166,945 L1175,980" fill="none" stroke="#2ee6e6" stroke-width="6" stroke-linecap="round" stroke-linejoin="round" opacity="1"/><path d="M1156,914 L1160,990" fill="none" stroke="#ea1414" stroke-width="5" stroke-linecap="round" stroke-linejoin="round" opacity="1"/><path d="M1140,930 L1146,965" fill="none" stroke="#f49494" stroke-width="4" stroke-linecap="round" stroke-linejoin="round" opacity="1"/></g>
</g>
<clipPath id="cle"><path d="M193.6,1253.9 C196.8,1249.92 204.22,1242.1 211.6,1237.1 C218.98,1232.1 229.52,1228.1 237.9,1223.9 C246.28,1219.7 253.92,1215.88 261.9,1211.9 C269.88,1207.92 277.82,1203.98 285.8,1200 C293.78,1196.02 303.8,1191.2 309.8,1188 C315.8,1184.8 317.8,1182.1 321.8,1180.8 C325.8,1179.5 330.22,1179.6 333.8,1180.2 C337.38,1180.8 340.52,1182.1 343.3,1184.4 C346.08,1186.7 348.68,1189.82 350.5,1194 C352.32,1198.18 353.78,1204.92 354.2,1209.5 C354.62,1214.08 354,1218.1 353,1221.5 C352,1224.9 350.02,1226.9 348.2,1229.9 C346.38,1232.9 344.5,1236.5 342.1,1239.5 C339.7,1242.5 337.98,1245.1 333.8,1247.9 C329.62,1250.7 321,1253.32 317,1256.3 C313,1259.28 313,1261.22 309.8,1265.8 C306.6,1270.38 300.8,1279 297.8,1283.8 C294.8,1288.6 295.78,1290.6 291.8,1294.6 C287.82,1298.6 279.68,1303 273.9,1307.8 C268.12,1312.6 261.1,1319.62 257.1,1323.4 C253.1,1327.18 253.5,1329.12 249.9,1330.5 C246.3,1331.88 240.3,1332.5 235.5,1331.7 C230.7,1330.9 225.48,1329.08 221.1,1325.7 C216.72,1322.32 212.38,1317.38 209.2,1311.4 C206.02,1305.42 204.4,1296.4 202,1289.8 C199.6,1283.2 196.4,1276.6 194.8,1271.8 C193.2,1267 192.6,1263.98 192.4,1261 C192.2,1258.02 190.4,1257.88 193.6,1253.9Z"/></clipPath>
<g clip-path="url(#cle)">
<path d="M193.6,1253.9 C196.8,1249.92 204.22,1242.1 211.6,1237.1 C218.98,1232.1 229.52,1228.1 237.9,1223.9 C246.28,1219.7 253.92,1215.88 261.9,1211.9 C269.88,1207.92 277.82,1203.98 285.8,1200 C293.78,1196.02 303.8,1191.2 309.8,1188 C315.8,1184.8 317.8,1182.1 321.8,1180.8 C325.8,1179.5 330.22,1179.6 333.8,1180.2 C337.38,1180.8 340.52,1182.1 343.3,1184.4 C346.08,1186.7 348.68,1189.82 350.5,1194 C352.32,1198.18 353.78,1204.92 354.2,1209.5 C354.62,1214.08 354,1218.1 353,1221.5 C352,1224.9 350.02,1226.9 348.2,1229.9 C346.38,1232.9 344.5,1236.5 342.1,1239.5 C339.7,1242.5 337.98,1245.1 333.8,1247.9 C329.62,1250.7 321,1253.32 317,1256.3 C313,1259.28 313,1261.22 309.8,1265.8 C306.6,1270.38 300.8,1279 297.8,1283.8 C294.8,1288.6 295.78,1290.6 291.8,1294.6 C287.82,1298.6 279.68,1303 273.9,1307.8 C268.12,1312.6 261.1,1319.62 257.1,1323.4 C253.1,1327.18 253.5,1329.12 249.9,1330.5 C246.3,1331.88 240.3,1332.5 235.5,1331.7 C230.7,1330.9 225.48,1329.08 221.1,1325.7 C216.72,1322.32 212.38,1317.38 209.2,1311.4 C206.02,1305.42 204.4,1296.4 202,1289.8 C199.6,1283.2 196.4,1276.6 194.8,1271.8 C193.2,1267 192.6,1263.98 192.4,1261 C192.2,1258.02 190.4,1257.88 193.6,1253.9Z" fill="#f2f6f6"/>
<path d="M262,1262 C269.5,1256.67 290.67,1268 300,1268 C309.33,1268 318,1258.33 318,1262 C318,1265.67 308,1281.67 300,1290 C292,1298.33 277.5,1310.33 270,1312 C262.5,1313.67 256.33,1308.33 255,1300 C253.67,1291.67 254.5,1267.33 262,1262Z" fill="#f6b0b0" filter="url(#ble)"/>
<filter id="ble" x="-20%" y="-20%" width="140%" height="140%"><feGaussianBlur stdDeviation="1.7"/></filter>
<g filter="url(#ble)"><path d="M297.8,1190.4 L337.4,1183.2" fill="none" stroke="#2ee6e6" stroke-width="8" stroke-linecap="round" stroke-linejoin="round" opacity="1"/><path d="M300.2,1193.5 L345.7,1200" fill="none" stroke="#ee1a1a" stroke-width="5" stroke-linecap="round" stroke-linejoin="round" opacity="1"/><path d="M279.9,1201 L348,1211" fill="none" stroke="#2ee6e6" stroke-width="8" stroke-linecap="round" stroke-linejoin="round" opacity="1"/><path d="M271.5,1208.5 L343,1222" fill="none" stroke="#ee1a1a" stroke-width="5.5" stroke-linecap="round" stroke-linejoin="round" opacity="1"/><path d="M249.9,1214 L338,1232" fill="none" stroke="#2ee6e6" stroke-width="9" stroke-linecap="round" stroke-linejoin="round" opacity="1"/><path d="M231.9,1229 L320,1246" fill="none" stroke="#ee1a1a" stroke-width="6.5" stroke-linecap="round" stroke-linejoin="round" opacity="1"/><path d="M211.6,1239 L314,1261" fill="none" stroke="#2ee6e6" stroke-width="10" stroke-linecap="round" stroke-linejoin="round" opacity="1"/><path d="M217.6,1254 L250,1262 L300,1285" fill="none" stroke="#ee2222" stroke-width="7.5" stroke-linecap="round" stroke-linejoin="round" opacity="1"/><path d="M262,1275 L295,1292" fill="none" stroke="#f07070" stroke-width="5" stroke-linecap="round" stroke-linejoin="round" opacity="1"/><path d="M265,1295 L285,1305" fill="none" stroke="#f49090" stroke-width="4" stroke-linecap="round" stroke-linejoin="round" opacity="1"/><path d="M195,1258 L197,1278 L203,1290" fill="none" stroke="#ee1a1a" stroke-width="6" stroke-linecap="round" stroke-linejoin="round" opacity="1"/><path d="M205,1265 L212,1290 L220,1310" fill="none" stroke="#2ee6e6" stroke-width="9" stroke-linecap="round" stroke-linejoin="round" opacity="1"/><path d="M223,1273 L227,1300 L223,1318" fill="none" stroke="#ee1a1a" stroke-width="6" stroke-linecap="round" stroke-linejoin="round" opacity="1"/><path d="M236,1273 L241,1300 L238,1325" fill="none" stroke="#2ee6e6" stroke-width="8" stroke-linecap="round" stroke-linejoin="round" opacity="1"/><path d="M248,1312 L252,1322" fill="none" stroke="#ee1a1a" stroke-width="9" stroke-linecap="round" stroke-linejoin="round" opacity="1"/></g>
</g>
<clipPath id="clf"><path d="M496.9,1247.3 C501.37,1244.48 511.02,1240.25 522.3,1234.6 C533.58,1228.95 551.68,1219.98 564.6,1213.4 C577.52,1206.82 589.23,1200.73 599.8,1195.1 C610.37,1189.47 620.95,1181.95 628,1179.6 C635.05,1177.25 637.87,1179.35 642.1,1181 C646.33,1182.65 650.58,1185.73 653.4,1189.5 C656.22,1193.27 658.07,1198.9 659,1203.6 C659.93,1208.3 659.47,1213.48 659,1217.7 C658.53,1221.92 662.55,1220.22 656.2,1228.9 C649.85,1237.58 631.47,1258.28 620.9,1269.8 C610.33,1281.32 602.18,1288.6 592.8,1298 C583.42,1307.4 572.83,1318.68 564.6,1326.2 C556.37,1333.72 548.82,1340.52 543.4,1343.1 C537.98,1345.68 536.08,1344.05 532.1,1341.7 C528.12,1339.35 523.48,1334.4 519.5,1329 C515.52,1323.6 511.73,1316.82 508.2,1309.3 C504.67,1301.78 500.53,1291.65 498.3,1283.9 C496.07,1276.15 495.27,1268.2 494.8,1262.8 C494.33,1257.4 495.15,1254.08 495.5,1251.5 C495.85,1248.92 492.43,1250.12 496.9,1247.3Z"/></clipPath>
<g clip-path="url(#clf)">
<path d="M496.9,1247.3 C501.37,1244.48 511.02,1240.25 522.3,1234.6 C533.58,1228.95 551.68,1219.98 564.6,1213.4 C577.52,1206.82 589.23,1200.73 599.8,1195.1 C610.37,1189.47 620.95,1181.95 628,1179.6 C635.05,1177.25 637.87,1179.35 642.1,1181 C646.33,1182.65 650.58,1185.73 653.4,1189.5 C656.22,1193.27 658.07,1198.9 659,1203.6 C659.93,1208.3 659.47,1213.48 659,1217.7 C658.53,1221.92 662.55,1220.22 656.2,1228.9 C649.85,1237.58 631.47,1258.28 620.9,1269.8 C610.33,1281.32 602.18,1288.6 592.8,1298 C583.42,1307.4 572.83,1318.68 564.6,1326.2 C556.37,1333.72 548.82,1340.52 543.4,1343.1 C537.98,1345.68 536.08,1344.05 532.1,1341.7 C528.12,1339.35 523.48,1334.4 519.5,1329 C515.52,1323.6 511.73,1316.82 508.2,1309.3 C504.67,1301.78 500.53,1291.65 498.3,1283.9 C496.07,1276.15 495.27,1268.2 494.8,1262.8 C494.33,1257.4 495.15,1254.08 495.5,1251.5 C495.85,1248.92 492.43,1250.12 496.9,1247.3Z" fill="#22e6e6"/>
<filter id="blf" x="-20%" y="-20%" width="140%" height="140%"><feGaussianBlur stdDeviation="1.8"/></filter>
<g filter="url(#blf)"><path d="M515,1246 L640,1188" fill="none" stroke="#e4f8f8" stroke-width="12" stroke-linecap="round" stroke-linejoin="round" opacity="1"/><path d="M530,1238 L585,1218" fill="none" stroke="#fafafa" stroke-width="10" stroke-linecap="round" stroke-linejoin="round" opacity="1"/><path d="M575,1212 L615,1198" fill="none" stroke="#fafafa" stroke-width="9" stroke-linecap="round" stroke-linejoin="round" opacity="1"/><path d="M612,1191 L640,1185" fill="none" stroke="#fafafa" stroke-width="6" stroke-linecap="round" stroke-linejoin="round" opacity="1"/><path d="M540,1231.5 L566,1236.5" fill="none" stroke="#ee1a1a" stroke-width="6.5" stroke-linecap="round" stroke-linejoin="round" opacity="1"/><path d="M583,1208 L604,1211.5" fill="none" stroke="#ee1a1a" stroke-width="5.5" stroke-linecap="round" stroke-linejoin="round" opacity="1"/><path d="M617,1188.5 L631,1190.5" fill="none" stroke="#ee1a1a" stroke-width="4.2" stroke-linecap="round" stroke-linejoin="round" opacity="1"/><path d="M506,1252 L518,1275 L526,1300 L532,1328" fill="none" stroke="#f4f8f8" stroke-width="9" stroke-linecap="round" stroke-linejoin="round" opacity="1"/><path d="M514,1262 L524,1276" fill="none" stroke="#f07070" stroke-width="3" stroke-linecap="round" stroke-linejoin="round" opacity="1"/><path d="M512,1312 L521,1327" fill="none" stroke="#ee4a4a" stroke-width="3" stroke-linecap="round" stroke-linejoin="round" opacity="1"/><path d="M500,1256 L503,1290 L512,1318" fill="none" stroke="#30e2e2" stroke-width="5" stroke-linecap="round" stroke-linejoin="round" opacity="1"/></g>
</g>
<rect x="138.7" y="725.6" width="1254" height="692.7" fill="none" stroke="#000" stroke-width="2.1"/>
<line x1="243.11" y1="1418.3" x2="243.11" y2="1413.8" stroke="#000" stroke-width="2" />
<line x1="243.11" y1="725.6" x2="243.11" y2="730.1" stroke="#000" stroke-width="2" />
<line x1="347.62" y1="1418.3" x2="347.62" y2="1410.3" stroke="#000" stroke-width="2" />
<line x1="347.62" y1="725.6" x2="347.62" y2="733.6" stroke="#000" stroke-width="2" />
<line x1="452.14" y1="1418.3" x2="452.14" y2="1413.8" stroke="#000" stroke-width="2" />
<line x1="452.14" y1="725.6" x2="452.14" y2="730.1" stroke="#000" stroke-width="2" />
<line x1="556.65" y1="1418.3" x2="556.65" y2="1410.3" stroke="#000" stroke-width="2" />
<line x1="556.65" y1="725.6" x2="556.65" y2="733.6" stroke="#000" stroke-width="2" />
<line x1="661.16" y1="1418.3" x2="661.16" y2="1413.8" stroke="#000" stroke-width="2" />
<line x1="661.16" y1="725.6" x2="661.16" y2="730.1" stroke="#000" stroke-width="2" />
<line x1="765.68" y1="1418.3" x2="765.68" y2="1410.3" stroke="#000" stroke-width="2" />
<line x1="765.68" y1="725.6" x2="765.68" y2="733.6" stroke="#000" stroke-width="2" />
<line x1="870.19" y1="1418.3" x2="870.19" y2="1413.8" stroke="#000" stroke-width="2" />
<line x1="870.19" y1="725.6" x2="870.19" y2="730.1" stroke="#000" stroke-width="2" />
<line x1="974.7" y1="1418.3" x2="974.7" y2="1410.3" stroke="#000" stroke-width="2" />
<line x1="974.7" y1="725.6" x2="974.7" y2="733.6" stroke="#000" stroke-width="2" />
<line x1="1079.21" y1="1418.3" x2="1079.21" y2="1413.8" stroke="#000" stroke-width="2" />
<line x1="1079.21" y1="725.6" x2="1079.21" y2="730.1" stroke="#000" stroke-width="2" />
<line x1="1183.72" y1="1418.3" x2="1183.72" y2="1410.3" stroke="#000" stroke-width="2" />
<line x1="1183.72" y1="725.6" x2="1183.72" y2="733.6" stroke="#000" stroke-width="2" />
<line x1="1288.24" y1="1418.3" x2="1288.24" y2="1413.8" stroke="#000" stroke-width="2" />
<line x1="1288.24" y1="725.6" x2="1288.24" y2="730.1" stroke="#000" stroke-width="2" />
<line x1="138.7" y1="1386.98" x2="146.7" y2="1386.98" stroke="#000" stroke-width="2" />
<line x1="1392.7" y1="1386.98" x2="1384.7" y2="1386.98" stroke="#000" stroke-width="2" />
<line x1="138.7" y1="1334.55" x2="143.2" y2="1334.55" stroke="#000" stroke-width="2" />
<line x1="1392.7" y1="1334.55" x2="1388.2" y2="1334.55" stroke="#000" stroke-width="2" />
<line x1="138.7" y1="1282.12" x2="146.7" y2="1282.12" stroke="#000" stroke-width="2" />
<line x1="1392.7" y1="1282.12" x2="1384.7" y2="1282.12" stroke="#000" stroke-width="2" />
<line x1="138.7" y1="1229.69" x2="143.2" y2="1229.69" stroke="#000" stroke-width="2" />
<line x1="1392.7" y1="1229.69" x2="1388.2" y2="1229.69" stroke="#000" stroke-width="2" />
<line x1="138.7" y1="1177.26" x2="146.7" y2="1177.26" stroke="#000" stroke-width="2" />
<line x1="1392.7" y1="1177.26" x2="1384.7" y2="1177.26" stroke="#000" stroke-width="2" />
<line x1="138.7" y1="1124.83" x2="143.2" y2="1124.83" stroke="#000" stroke-width="2" />
<line x1="1392.7" y1="1124.83" x2="1388.2" y2="1124.83" stroke="#000" stroke-width="2" />
<line x1="138.7" y1="1072.4" x2="146.7" y2="1072.4" stroke="#000" stroke-width="2" />
<line x1="1392.7" y1="1072.4" x2="1384.7" y2="1072.4" stroke="#000" stroke-width="2" />
<line x1="138.7" y1="1019.97" x2="143.2" y2="1019.97" stroke="#000" stroke-width="2" />
<line x1="1392.7" y1="1019.97" x2="1388.2" y2="1019.97" stroke="#000" stroke-width="2" />
<line x1="138.7" y1="967.54" x2="146.7" y2="967.54" stroke="#000" stroke-width="2" />
<line x1="1392.7" y1="967.54" x2="1384.7" y2="967.54" stroke="#000" stroke-width="2" />
<line x1="138.7" y1="915.11" x2="143.2" y2="915.11" stroke="#000" stroke-width="2" />
<line x1="1392.7" y1="915.11" x2="1388.2" y2="915.11" stroke="#000" stroke-width="2" />
<line x1="138.7" y1="862.68" x2="146.7" y2="862.68" stroke="#000" stroke-width="2" />
<line x1="1392.7" y1="862.68" x2="1384.7" y2="862.68" stroke="#000" stroke-width="2" />
<line x1="138.7" y1="810.25" x2="143.2" y2="810.25" stroke="#000" stroke-width="2" />
<line x1="1392.7" y1="810.25" x2="1388.2" y2="810.25" stroke="#000" stroke-width="2" />
<line x1="138.7" y1="757.82" x2="146.7" y2="757.82" stroke="#000" stroke-width="2" />
<line x1="1392.7" y1="757.82" x2="1384.7" y2="757.82" stroke="#000" stroke-width="2" />
<text x="138.6" y="1455.7" font-size="36" fill="#000" text-anchor="middle">-1.5</text>
<text x="347.62" y="1455.7" font-size="36" fill="#000" text-anchor="middle">-1.0</text>
<text x="556.65" y="1455.7" font-size="36" fill="#000" text-anchor="middle">-0.5</text>
<text x="765.68" y="1455.7" font-size="36" fill="#000" text-anchor="middle">0.0</text>
<text x="974.7" y="1455.7" font-size="36" fill="#000" text-anchor="middle">0.5</text>
<text x="1183.72" y="1455.7" font-size="36" fill="#000" text-anchor="middle">1.0</text>
<text x="1392.75" y="1455.7" font-size="36" fill="#000" text-anchor="middle">1.5</text>
<text x="97.9" y="1397.38" font-size="36" fill="#000" >-6</text>
<text x="97.4" y="1292.52" font-size="36" fill="#000" >-4</text>
<text x="98.15" y="1187.66" font-size="36" fill="#000" >-2</text>
<text x="109.9" y="1082.8" font-size="36" fill="#000" >0</text>
<text x="110.15" y="977.94" font-size="36" fill="#000" >2</text>
<text x="109.4" y="873.08" font-size="36" fill="#000" >4</text>
<text x="109.9" y="768.22" font-size="36" fill="#000" >6</text>
<text x="0.15" y="737.8" font-size="44.5" fill="#000" >(b)</text>
<g transform="translate(75,1083.8) rotate(-90)"><text x="-1.75" y="0" font-size="39" fill="#000" >Q</text></g>
<text x="728.25" y="1525" font-size="40" font-style="italic" fill="#000" >H</text>
<text x="756.5" y="1533.5" font-size="22" fill="#000" >z</text>
<text x="768.4" y="1525" font-size="39.5" fill="#000" >(T)</text>
<clipPath id="cb"><rect x="138.7" y="725.6" width="1254" height="692.7"/></clipPath>
<g clip-path="url(#cb)">
<polyline points="1388.57,1066.25 1384.39,1066.21 1380.21,1066.16 1376.03,1066.12 1371.85,1066.07 1367.67,1066.03 1363.49,1065.98 1359.31,1065.93 1355.13,1065.89 1350.94,1065.84 1346.76,1065.8 1342.58,1065.75 1338.4,1065.7 1334.22,1065.66 1330.04,1065.61 1325.86,1065.57 1321.68,1065.52 1317.5,1065.48 1313.32,1065.43 1309.14,1065.38 1304.96,1065.34 1300.78,1065.29 1296.6,1065.25 1292.42,1065.2 1288.24,1065.15 1284.06,1065.11 1279.88,1065.06 1275.7,1065.02 1271.52,1064.97 1267.34,1064.93 1263.15,1064.88 1258.97,1064.83 1254.79,1064.79 1250.61,1064.74 1246.43,1064.7 1242.25,1064.65 1238.07,1064.6 1233.89,1064.56 1229.71,1064.51 1225.53,1064.47 1221.35,1064.42 1217.17,1064.38 1212.99,1064.33 1208.81,1064.28 1204.63,1064.24 1200.45,1064.19 1196.27,1064.15 1192.09,1064.1 1187.91,1064.05 1183.72,1064.01 1179.54,1063.96 1175.36,1063.92 1171.18,1063.87 1167,1063.83 1162.82,1063.78 1158.64,1063.73 1154.46,1063.69 1150.28,1063.64 1146.1,1063.6 1141.92,1063.55 1137.74,1063.5 1133.56,1063.46 1129.38,1063.41 1125.2,1063.37 1121.02,1063.32 1116.84,1063.27 1112.66,1063.23 1108.48,1063.17 1104.3,1063.09 1100.12,1063.01 1095.93,1062.93 1091.75,1062.85 1087.57,1062.76 1083.39,1062.68 1079.21,1062.6 1075.03,1062.52 1070.85,1062.44 1066.67,1062.36 1062.49,1062.28 1058.31,1062.21 1054.13,1062.15 1049.95,1062.08 1045.77,1062.02 1041.59,1061.95 1037.41,1061.89 1033.23,1061.82 1029.05,1061.75 1024.87,1061.69 1020.69,1061.62 1016.51,1061.56 1012.32,1061.49 1008.14,1061.42 1003.96,1061.36 999.78,1061.29 995.6,1061.17 991.42,1061.06 987.24,1060.95 983.06,1060.84 978.88,1060.73 974.7,1060.61 970.52,1060.5 966.34,1060.39 962.16,1060.28 957.98,1060.17 953.8,1060.06 949.62,1059.94 945.44,1059.83 941.26,1059.72 937.08,1059.61 932.89,1059.47 928.71,1059.33 924.53,1059.19 920.35,1059.06 916.17,1058.92 911.99,1058.78 907.81,1058.64 903.63,1058.5 899.45,1058.36 895.27,1058.22 891.09,1058.09 886.91,1057.95 882.73,1057.81 878.55,1057.67 874.37,1057.53 870.19,1057.44 866.01,1057.35 861.83,1057.27 857.65,1057.19 853.47,1057.11 849.28,1057.03 840.7,1058.5 836.4,1061.3 832.2,1064.9 828,1069.7 823.7,1075.5 819.5,1089.8 815.4,1236 811.1,1408.4 806.8,1389.1 802.7,1369.4 798.9,1348.8 794.6,1327 790.3,1303 786,1277.3 782.2,1248.2 777.5,1216.7 773.2,1180.9 768.9,1139.2 764.9,1094 760.8,1048.5 757.1,1006.3 752.9,970 748.6,939.5 744.3,917.7 740.2,909.1 736,904.5 731.8,890 727.8,866.2 723.6,840.9 719.3,819.5 714.8,803.3 710.8,789.4 706.8,775 702.8,770.6 698.79,768.88 694.61,768.32 690.43,768.94 686.25,769.62 682.07,770.26 677.88,770.89 673.7,771.52 669.52,772.14 665.34,772.64 661.16,772.8 656.98,772.96 652.8,773.12 648.62,773.27 644.44,773.43 640.26,773.59 636.08,773.66 631.9,773.72 627.72,773.78 623.54,773.84 619.36,773.9 615.18,773.96 611,774.02 606.82,774.08 602.64,774.13 598.46,774.19 594.27,774.24 590.09,774.3 585.91,774.35 581.73,774.4 577.55,774.46 573.37,774.51 569.19,774.57 565.01,774.62 560.83,774.68 556.65,774.73 552.47,774.78 548.29,774.84 544.11,774.89 539.93,774.95 535.75,775 531.57,775.06 527.39,775.11 523.21,775.16 519.03,775.28 514.85,775.49 510.66,775.7 506.48,775.92 502.3,776.13 498.12,776.34 493.94,776.56 489.76,776.77 485.58,776.99 481.4,777.2 477.22,777.41 473.04,777.63 468.86,777.84 464.68,778.06 460.5,778.27 456.32,778.48 452.14,778.7 447.96,778.91 443.78,779.12 439.6,779.42 435.42,779.76 431.24,780.09 427.05,780.43 422.87,780.77 418.69,781.07 414.51,781.28 410.33,781.5 406.15,781.72 401.97,781.93 397.79,782.15 393.61,782.37 389.43,782.58 385.25,782.98 381.07,783.4 376.89,783.81 372.71,784.23 368.53,784.64 364.35,785.06 360.17,785.51 355.99,786.13 351.81,786.76 347.62,787.38 343.44,788.01 339.26,788.63 335.08,789.26 330.9,790.03 326.72,790.98 322.54,791.93 318.36,792.88 314.18,793.83 310,794.77 305.82,795.72 301.64,796.98 297.46,798.36 293.28,799.74 289.1,801.12 284.92,802.5 280.74,804.08 276.56,805.78 272.38,807.48 268.2,809.18 264.01,811.29 259.83,813.43 255.65,816.1 251.47,820.13 247.29,825.54 243.11,831.2 238.6,1076.6 234.75,1078.37 230.57,1078.35 226.39,1078.33 222.21,1078.31 218.03,1078.29 213.85,1078.27 209.67,1078.25 205.49,1078.23 201.31,1078.21 197.13,1078.19 192.95,1078.17 188.77,1078.15 184.59,1078.13 180.41,1078.11 176.22,1078.09 172.04,1078.06 167.86,1078.04 163.68,1078.02 159.5,1078 155.32,1077.98 151.14,1077.96 146.96,1077.94 142.78,1077.92 138.6,1077.9" fill="none" stroke="#000" stroke-width="1.9" stroke-linejoin="round" />
<polyline points="138.6,1077.9 142.78,1077.92 146.96,1077.94 151.14,1077.96 155.32,1077.98 159.5,1078 163.68,1078.02 167.86,1078.04 172.04,1078.06 176.22,1078.09 180.41,1078.11 184.59,1078.13 188.77,1078.15 192.95,1078.17 197.13,1078.19 201.31,1078.21 205.49,1078.23 209.67,1078.25 213.85,1078.27 218.03,1078.29 222.21,1078.31 226.39,1078.33 230.57,1078.35 234.75,1078.37 238.93,1078.39 243.11,1078.46 247.29,1078.53 251.47,1078.61 255.65,1078.68 259.83,1078.76 264.01,1078.83 268.2,1078.91 272.38,1078.98 276.56,1079.06 280.74,1079.13 284.92,1079.21 289.1,1079.28 293.28,1079.36 297.46,1079.43 301.64,1079.51 305.82,1079.58 310,1079.66 314.18,1079.74 318.36,1079.81 322.54,1079.89 326.72,1079.96 330.9,1080.04 335.08,1080.11 339.26,1080.19 343.44,1080.26 347.62,1080.34 351.81,1080.41 355.99,1080.49 360.17,1080.56 364.35,1080.64 368.53,1080.71 372.71,1080.79 376.89,1080.86 381.07,1080.94 385.25,1081.01 389.43,1081.09 393.61,1081.16 397.79,1081.24 401.97,1081.32 406.15,1081.39 410.33,1081.47 414.51,1081.54 418.69,1081.62 422.87,1081.69 427.05,1081.77 431.24,1081.84 435.42,1081.92 439.6,1081.99 443.78,1082.08 447.96,1082.16 452.14,1082.25 456.32,1082.34 460.5,1082.42 464.68,1082.51 468.86,1082.59 473.04,1082.68 477.22,1082.77 481.4,1082.85 485.58,1082.94 489.76,1083.02 493.94,1083.11 498.12,1083.2 502.3,1083.28 506.48,1083.37 510.66,1083.45 514.85,1083.54 519.03,1083.63 523.21,1083.71 527.39,1083.8 531.57,1083.88 535.75,1083.97 539.93,1084.06 544.11,1084.14 548.29,1084.23 552.47,1084.31 556.65,1084.4 560.83,1084.49 565.01,1084.57 569.19,1084.66 573.37,1084.74 577.55,1084.83 581.73,1084.92 585.91,1085 590.09,1085.09 594.27,1085.17 598.46,1085.26 602.64,1085.38 606.82,1085.53 611,1085.68 615.18,1085.84 619.36,1085.99 623.54,1086.14 627.72,1086.29 631.9,1086.44 636.08,1086.59 640.26,1086.75 644.44,1086.9 648.62,1087.05 652.8,1087.14 656.98,1087.19 661.16,1087.25 665.34,1087.3 669.52,1087.36 673.7,1087.29 677.88,1086.92 682.07,1086.55 686.25,1086.13 694.2,1082.3 698.5,1078.9 702.7,1074.7 706.9,1069 710.9,1054.9 714.8,908.6 719.3,736.6 723.6,756 727.8,775.5 732,796 736,818 740.2,841.7 744.3,867.3 748.7,896 752.9,927.8 757.1,964.4 761.2,1005.7 765.8,1050.8 769.6,1096.6 773.6,1138.5 777.9,1175 782.2,1204.9 786,1226.8 790.3,1235.3 794.6,1240.3 798.5,1254.6 802.7,1278.4 807,1303.9 811.3,1324.8 815.6,1341.5 819.7,1355.2 823.9,1369.4 828.38,1373.22 832.56,1374.63 836.74,1374.76 840.92,1374.37 845.1,1373.99 849.28,1373.69 853.47,1373.39 857.65,1373.09 861.83,1372.79 866.01,1372.49 870.19,1372.19 874.37,1372.02 878.55,1371.85 882.73,1371.68 886.91,1371.51 891.09,1371.34 895.27,1371.16 899.45,1370.99 903.63,1370.86 907.81,1370.77 911.99,1370.67 916.17,1370.58 920.35,1370.49 924.53,1370.4 928.71,1370.31 932.89,1370.21 937.08,1370.12 941.26,1370.03 945.44,1369.94 949.62,1369.85 953.8,1369.75 957.98,1369.66 962.16,1369.57 966.34,1369.48 970.52,1369.39 974.7,1369.29 978.88,1369.2 983.06,1369.11 987.24,1368.95 991.42,1368.78 995.6,1368.61 999.78,1368.44 1003.96,1368.27 1008.14,1368.1 1012.32,1367.94 1016.51,1367.77 1020.69,1367.6 1024.87,1367.43 1029.05,1367.26 1033.23,1367.09 1037.41,1366.92 1041.59,1366.75 1045.77,1366.58 1049.95,1366.42 1054.13,1366.25 1058.31,1366.08 1062.49,1365.91 1066.67,1365.71 1070.85,1365.47 1075.03,1365.23 1079.21,1364.99 1083.39,1364.75 1087.57,1364.5 1091.75,1364.26 1095.93,1364.02 1100.12,1363.78 1104.3,1363.53 1108.48,1363.29 1112.66,1363.05 1116.84,1362.81 1121.02,1362.52 1125.2,1361.94 1129.38,1361.36 1133.56,1360.79 1137.74,1360.21 1141.92,1359.64 1146.1,1359.06 1150.28,1358.49 1154.46,1357.91 1158.64,1357.34 1162.82,1356.76 1167,1356.19 1171.18,1355.61 1175.36,1355.04 1179.54,1354.46 1183.72,1353.66 1187.91,1352.83 1192.09,1352 1196.27,1351.18 1200.45,1350.35 1204.63,1349.52 1208.81,1348.69 1212.99,1347.86 1217.17,1346.97 1221.35,1346.07 1225.53,1345.16 1229.71,1344.25 1233.89,1343.35 1238.07,1342.44 1242.25,1340.93 1246.43,1339.19 1250.61,1337.45 1254.79,1335.71 1258.97,1333.97 1263.15,1332.23 1267.34,1330.22 1271.52,1327.59 1275.7,1324.73 1279.88,1321.47 1284.06,1317.52 1288.24,1312.8 1292.42,1066.8 1296.6,1066.78 1300.78,1066.76 1304.96,1066.74 1309.14,1066.71 1313.32,1066.69 1317.5,1066.67 1321.68,1066.65 1325.86,1066.63 1330.04,1066.61 1334.22,1066.59 1338.4,1066.57 1342.58,1066.55 1346.76,1066.53 1350.94,1066.51 1355.13,1066.49 1359.31,1066.47 1363.49,1066.45 1367.67,1066.42 1371.85,1066.4 1376.03,1066.38 1380.21,1066.36 1384.39,1066.34 1388.57,1066.32" fill="none" stroke="#000" stroke-width="1.9" stroke-linejoin="round" />
<g fill="#000"><rect x="1385.47" y="1063.15" width="6.2" height="6.2"/><rect x="1381.29" y="1063.11" width="6.2" height="6.2"/><rect x="1377.11" y="1063.06" width="6.2" height="6.2"/><rect x="1372.93" y="1063.02" width="6.2" height="6.2"/><rect x="1368.75" y="1062.97" width="6.2" height="6.2"/><rect x="1364.57" y="1062.93" width="6.2" height="6.2"/><rect x="1360.39" y="1062.88" width="6.2" height="6.2"/><rect x="1356.21" y="1062.83" width="6.2" height="6.2"/><rect x="1352.03" y="1062.79" width="6.2" height="6.2"/><rect x="1347.85" y="1062.74" width="6.2" height="6.2"/><rect x="1343.66" y="1062.7" width="6.2" height="6.2"/><rect x="1339.48" y="1062.65" width="6.2" height="6.2"/><rect x="1335.3" y="1062.6" width="6.2" height="6.2"/><rect x="1331.12" y="1062.56" width="6.2" height="6.2"/><rect x="1326.94" y="1062.51" width="6.2" height="6.2"/><rect x="1322.76" y="1062.47" width="6.2" height="6.2"/><rect x="1318.58" y="1062.42" width="6.2" height="6.2"/><rect x="1314.4" y="1062.38" width="6.2" height="6.2"/><rect x="1310.22" y="1062.33" width="6.2" height="6.2"/><rect x="1306.04" y="1062.28" width="6.2" height="6.2"/><rect x="1301.86" y="1062.24" width="6.2" height="6.2"/><rect x="1297.68" y="1062.19" width="6.2" height="6.2"/><rect x="1293.5" y="1062.15" width="6.2" height="6.2"/><rect x="1289.32" y="1062.1" width="6.2" height="6.2"/><rect x="1285.14" y="1062.05" width="6.2" height="6.2"/><rect x="1280.96" y="1062.01" width="6.2" height="6.2"/><rect x="1276.78" y="1061.96" width="6.2" height="6.2"/><rect x="1272.6" y="1061.92" width="6.2" height="6.2"/><rect x="1268.42" y="1061.87" width="6.2" height="6.2"/><rect x="1264.24" y="1061.83" width="6.2" height="6.2"/><rect x="1260.05" y="1061.78" width="6.2" height="6.2"/><rect x="1255.87" y="1061.73" width="6.2" height="6.2"/><rect x="1251.69" y="1061.69" width="6.2" height="6.2"/><rect x="1247.51" y="1061.64" width="6.2" height="6.2"/><rect x="1243.33" y="1061.6" width="6.2" height="6.2"/><rect x="1239.15" y="1061.55" width="6.2" height="6.2"/><rect x="1234.97" y="1061.5" width="6.2" height="6.2"/><rect x="1230.79" y="1061.46" width="6.2" height="6.2"/><rect x="1226.61" y="1061.41" width="6.2" height="6.2"/><rect x="1222.43" y="1061.37" width="6.2" height="6.2"/><rect x="1218.25" y="1061.32" width="6.2" height="6.2"/><rect x="1214.07" y="1061.28" width="6.2" height="6.2"/><rect x="1209.89" y="1061.23" width="6.2" height="6.2"/><rect x="1205.71" y="1061.18" width="6.2" height="6.2"/><rect x="1201.53" y="1061.14" width="6.2" height="6.2"/><rect x="1197.35" y="1061.09" width="6.2" height="6.2"/><rect x="1193.17" y="1061.05" width="6.2" height="6.2"/><rect x="1188.99" y="1061" width="6.2" height="6.2"/><rect x="1184.81" y="1060.95" width="6.2" height="6.2"/><rect x="1180.62" y="1060.91" width="6.2" height="6.2"/><rect x="1176.44" y="1060.86" width="6.2" height="6.2"/><rect x="1172.26" y="1060.82" width="6.2" height="6.2"/><rect x="1168.08" y="1060.77" width="6.2" height="6.2"/><rect x="1163.9" y="1060.73" width="6.2" height="6.2"/><rect x="1159.72" y="1060.68" width="6.2" height="6.2"/><rect x="1155.54" y="1060.63" width="6.2" height="6.2"/><rect x="1151.36" y="1060.59" width="6.2" height="6.2"/><rect x="1147.18" y="1060.54" width="6.2" height="6.2"/><rect x="1143" y="1060.5" width="6.2" height="6.2"/><rect x="1138.82" y="1060.45" width="6.2" height="6.2"/><rect x="1134.64" y="1060.4" width="6.2" height="6.2"/><rect x="1130.46" y="1060.36" width="6.2" height="6.2"/><rect x="1126.28" y="1060.31" width="6.2" height="6.2"/><rect x="1122.1" y="1060.27" width="6.2" height="6.2"/><rect x="1117.92" y="1060.22" width="6.2" height="6.2"/><rect x="1113.74" y="1060.17" width="6.2" height="6.2"/><rect x="1109.56" y="1060.13" width="6.2" height="6.2"/><rect x="1105.38" y="1060.07" width="6.2" height="6.2"/><rect x="1101.2" y="1059.99" width="6.2" height="6.2"/><rect x="1097.02" y="1059.91" width="6.2" height="6.2"/><rect x="1092.83" y="1059.83" width="6.2" height="6.2"/><rect x="1088.65" y="1059.75" width="6.2" height="6.2"/><rect x="1084.47" y="1059.66" width="6.2" height="6.2"/><rect x="1080.29" y="1059.58" width="6.2" height="6.2"/><rect x="1076.11" y="1059.5" width="6.2" height="6.2"/><rect x="1071.93" y="1059.42" width="6.2" height="6.2"/><rect x="1067.75" y="1059.34" width="6.2" height="6.2"/><rect x="1063.57" y="1059.26" width="6.2" height="6.2"/><rect x="1059.39" y="1059.18" width="6.2" height="6.2"/><rect x="1055.21" y="1059.11" width="6.2" height="6.2"/><rect x="1051.03" y="1059.05" width="6.2" height="6.2"/><rect x="1046.85" y="1058.98" width="6.2" height="6.2"/><rect x="1042.67" y="1058.92" width="6.2" height="6.2"/><rect x="1038.49" y="1058.85" width="6.2" height="6.2"/><rect x="1034.31" y="1058.79" width="6.2" height="6.2"/><rect x="1030.13" y="1058.72" width="6.2" height="6.2"/><rect x="1025.95" y="1058.65" width="6.2" height="6.2"/><rect x="1021.77" y="1058.59" width="6.2" height="6.2"/><rect x="1017.59" y="1058.52" width="6.2" height="6.2"/><rect x="1013.41" y="1058.46" width="6.2" height="6.2"/><rect x="1009.22" y="1058.39" width="6.2" height="6.2"/><rect x="1005.04" y="1058.32" width="6.2" height="6.2"/><rect x="1000.86" y="1058.26" width="6.2" height="6.2"/><rect x="996.68" y="1058.19" width="6.2" height="6.2"/><rect x="992.5" y="1058.07" width="6.2" height="6.2"/><rect x="988.32" y="1057.96" width="6.2" height="6.2"/><rect x="984.14" y="1057.85" width="6.2" height="6.2"/><rect x="979.96" y="1057.74" width="6.2" height="6.2"/><rect x="975.78" y="1057.63" width="6.2" height="6.2"/><rect x="971.6" y="1057.51" width="6.2" height="6.2"/><rect x="967.42" y="1057.4" width="6.2" height="6.2"/><rect x="963.24" y="1057.29" width="6.2" height="6.2"/><rect x="959.06" y="1057.18" width="6.2" height="6.2"/><rect x="954.88" y="1057.07" width="6.2" height="6.2"/><rect x="950.7" y="1056.96" width="6.2" height="6.2"/><rect x="946.52" y="1056.84" width="6.2" height="6.2"/><rect x="942.34" y="1056.73" width="6.2" height="6.2"/><rect x="938.16" y="1056.62" width="6.2" height="6.2"/><rect x="933.98" y="1056.51" width="6.2" height="6.2"/><rect x="929.79" y="1056.37" width="6.2" height="6.2"/><rect x="925.61" y="1056.23" width="6.2" height="6.2"/><rect x="921.43" y="1056.09" width="6.2" height="6.2"/><rect x="917.25" y="1055.96" width="6.2" height="6.2"/><rect x="913.07" y="1055.82" width="6.2" height="6.2"/><rect x="908.89" y="1055.68" width="6.2" height="6.2"/><rect x="904.71" y="1055.54" width="6.2" height="6.2"/><rect x="900.53" y="1055.4" width="6.2" height="6.2"/><rect x="896.35" y="1055.26" width="6.2" height="6.2"/><rect x="892.17" y="1055.12" width="6.2" height="6.2"/><rect x="887.99" y="1054.99" width="6.2" height="6.2"/><rect x="883.81" y="1054.85" width="6.2" height="6.2"/><rect x="879.63" y="1054.71" width="6.2" height="6.2"/><rect x="875.45" y="1054.57" width="6.2" height="6.2"/><rect x="871.27" y="1054.43" width="6.2" height="6.2"/><rect x="867.09" y="1054.34" width="6.2" height="6.2"/><rect x="862.91" y="1054.25" width="6.2" height="6.2"/><rect x="858.73" y="1054.17" width="6.2" height="6.2"/><rect x="854.55" y="1054.09" width="6.2" height="6.2"/><rect x="850.37" y="1054.01" width="6.2" height="6.2"/><rect x="846.18" y="1053.93" width="6.2" height="6.2"/><rect x="837.6" y="1055.4" width="6.2" height="6.2"/><rect x="833.3" y="1058.2" width="6.2" height="6.2"/><rect x="829.1" y="1061.8" width="6.2" height="6.2"/><rect x="824.9" y="1066.6" width="6.2" height="6.2"/><rect x="820.6" y="1072.4" width="6.2" height="6.2"/><rect x="816.4" y="1086.7" width="6.2" height="6.2"/><rect x="812.3" y="1232.9" width="6.2" height="6.2"/><rect x="808" y="1405.3" width="6.2" height="6.2"/><rect x="803.7" y="1386" width="6.2" height="6.2"/><rect x="799.6" y="1366.3" width="6.2" height="6.2"/><rect x="795.8" y="1345.7" width="6.2" height="6.2"/><rect x="791.5" y="1323.9" width="6.2" height="6.2"/><rect x="787.2" y="1299.9" width="6.2" height="6.2"/><rect x="782.9" y="1274.2" width="6.2" height="6.2"/><rect x="779.1" y="1245.1" width="6.2" height="6.2"/><rect x="774.4" y="1213.6" width="6.2" height="6.2"/><rect x="770.1" y="1177.8" width="6.2" height="6.2"/><rect x="765.8" y="1136.1" width="6.2" height="6.2"/><rect x="761.8" y="1090.9" width="6.2" height="6.2"/><rect x="757.7" y="1045.4" width="6.2" height="6.2"/><rect x="754" y="1003.2" width="6.2" height="6.2"/><rect x="749.8" y="966.9" width="6.2" height="6.2"/><rect x="745.5" y="936.4" width="6.2" height="6.2"/><rect x="741.2" y="914.6" width="6.2" height="6.2"/><rect x="737.1" y="906" width="6.2" height="6.2"/><rect x="732.9" y="901.4" width="6.2" height="6.2"/><rect x="728.7" y="886.9" width="6.2" height="6.2"/><rect x="724.7" y="863.1" width="6.2" height="6.2"/><rect x="720.5" y="837.8" width="6.2" height="6.2"/><rect x="716.2" y="816.4" width="6.2" height="6.2"/><rect x="711.7" y="800.2" width="6.2" height="6.2"/><rect x="707.7" y="786.3" width="6.2" height="6.2"/><rect x="703.7" y="771.9" width="6.2" height="6.2"/><rect x="699.7" y="767.5" width="6.2" height="6.2"/><rect x="695.69" y="765.78" width="6.2" height="6.2"/><rect x="691.51" y="765.22" width="6.2" height="6.2"/><rect x="687.33" y="765.84" width="6.2" height="6.2"/><rect x="683.15" y="766.52" width="6.2" height="6.2"/><rect x="678.97" y="767.16" width="6.2" height="6.2"/><rect x="674.78" y="767.79" width="6.2" height="6.2"/><rect x="670.6" y="768.42" width="6.2" height="6.2"/><rect x="666.42" y="769.04" width="6.2" height="6.2"/><rect x="662.24" y="769.54" width="6.2" height="6.2"/><rect x="658.06" y="769.7" width="6.2" height="6.2"/><rect x="653.88" y="769.86" width="6.2" height="6.2"/><rect x="649.7" y="770.02" width="6.2" height="6.2"/><rect x="645.52" y="770.17" width="6.2" height="6.2"/><rect x="641.34" y="770.33" width="6.2" height="6.2"/><rect x="637.16" y="770.49" width="6.2" height="6.2"/><rect x="632.98" y="770.56" width="6.2" height="6.2"/><rect x="628.8" y="770.62" width="6.2" height="6.2"/><rect x="624.62" y="770.68" width="6.2" height="6.2"/><rect x="620.44" y="770.74" width="6.2" height="6.2"/><rect x="616.26" y="770.8" width="6.2" height="6.2"/><rect x="612.08" y="770.86" width="6.2" height="6.2"/><rect x="607.9" y="770.92" width="6.2" height="6.2"/><rect x="603.72" y="770.98" width="6.2" height="6.2"/><rect x="599.54" y="771.03" width="6.2" height="6.2"/><rect x="595.36" y="771.09" width="6.2" height="6.2"/><rect x="591.17" y="771.14" width="6.2" height="6.2"/><rect x="586.99" y="771.2" width="6.2" height="6.2"/><rect x="582.81" y="771.25" width="6.2" height="6.2"/><rect x="578.63" y="771.3" width="6.2" height="6.2"/><rect x="574.45" y="771.36" width="6.2" height="6.2"/><rect x="570.27" y="771.41" width="6.2" height="6.2"/><rect x="566.09" y="771.47" width="6.2" height="6.2"/><rect x="561.91" y="771.52" width="6.2" height="6.2"/><rect x="557.73" y="771.58" width="6.2" height="6.2"/><rect x="553.55" y="771.63" width="6.2" height="6.2"/><rect x="549.37" y="771.68" width="6.2" height="6.2"/><rect x="545.19" y="771.74" width="6.2" height="6.2"/><rect x="541.01" y="771.79" width="6.2" height="6.2"/><rect x="536.83" y="771.85" width="6.2" height="6.2"/><rect x="532.65" y="771.9" width="6.2" height="6.2"/><rect x="528.47" y="771.96" width="6.2" height="6.2"/><rect x="524.29" y="772.01" width="6.2" height="6.2"/><rect x="520.11" y="772.06" width="6.2" height="6.2"/><rect x="515.93" y="772.18" width="6.2" height="6.2"/><rect x="511.75" y="772.39" width="6.2" height="6.2"/><rect x="507.56" y="772.6" width="6.2" height="6.2"/><rect x="503.38" y="772.82" width="6.2" height="6.2"/><rect x="499.2" y="773.03" width="6.2" height="6.2"/><rect x="495.02" y="773.24" width="6.2" height="6.2"/><rect x="490.84" y="773.46" width="6.2" height="6.2"/><rect x="486.66" y="773.67" width="6.2" height="6.2"/><rect x="482.48" y="773.89" width="6.2" height="6.2"/><rect x="478.3" y="774.1" width="6.2" height="6.2"/><rect x="474.12" y="774.31" width="6.2" height="6.2"/><rect x="469.94" y="774.53" width="6.2" height="6.2"/><rect x="465.76" y="774.74" width="6.2" height="6.2"/><rect x="461.58" y="774.96" width="6.2" height="6.2"/><rect x="457.4" y="775.17" width="6.2" height="6.2"/><rect x="453.22" y="775.38" width="6.2" height="6.2"/><rect x="449.04" y="775.6" width="6.2" height="6.2"/><rect x="444.86" y="775.81" width="6.2" height="6.2"/><rect x="440.68" y="776.02" width="6.2" height="6.2"/><rect x="436.5" y="776.32" width="6.2" height="6.2"/><rect x="432.32" y="776.66" width="6.2" height="6.2"/><rect x="428.13" y="776.99" width="6.2" height="6.2"/><rect x="423.95" y="777.33" width="6.2" height="6.2"/><rect x="419.77" y="777.67" width="6.2" height="6.2"/><rect x="415.59" y="777.97" width="6.2" height="6.2"/><rect x="411.41" y="778.18" width="6.2" height="6.2"/><rect x="407.23" y="778.4" width="6.2" height="6.2"/><rect x="403.05" y="778.62" width="6.2" height="6.2"/><rect x="398.87" y="778.83" width="6.2" height="6.2"/><rect x="394.69" y="779.05" width="6.2" height="6.2"/><rect x="390.51" y="779.27" width="6.2" height="6.2"/><rect x="386.33" y="779.48" width="6.2" height="6.2"/><rect x="382.15" y="779.88" width="6.2" height="6.2"/><rect x="377.97" y="780.3" width="6.2" height="6.2"/><rect x="373.79" y="780.71" width="6.2" height="6.2"/><rect x="369.61" y="781.13" width="6.2" height="6.2"/><rect x="365.43" y="781.54" width="6.2" height="6.2"/><rect x="361.25" y="781.96" width="6.2" height="6.2"/><rect x="357.07" y="782.41" width="6.2" height="6.2"/><rect x="352.89" y="783.03" width="6.2" height="6.2"/><rect x="348.71" y="783.66" width="6.2" height="6.2"/><rect x="344.52" y="784.28" width="6.2" height="6.2"/><rect x="340.34" y="784.91" width="6.2" height="6.2"/><rect x="336.16" y="785.53" width="6.2" height="6.2"/><rect x="331.98" y="786.16" width="6.2" height="6.2"/><rect x="327.8" y="786.93" width="6.2" height="6.2"/><rect x="323.62" y="787.88" width="6.2" height="6.2"/><rect x="319.44" y="788.83" width="6.2" height="6.2"/><rect x="315.26" y="789.78" width="6.2" height="6.2"/><rect x="311.08" y="790.73" width="6.2" height="6.2"/><rect x="306.9" y="791.67" width="6.2" height="6.2"/><rect x="302.72" y="792.62" width="6.2" height="6.2"/><rect x="298.54" y="793.88" width="6.2" height="6.2"/><rect x="294.36" y="795.26" width="6.2" height="6.2"/><rect x="290.18" y="796.64" width="6.2" height="6.2"/><rect x="286" y="798.02" width="6.2" height="6.2"/><rect x="281.82" y="799.4" width="6.2" height="6.2"/><rect x="277.64" y="800.98" width="6.2" height="6.2"/><rect x="273.46" y="802.68" width="6.2" height="6.2"/><rect x="269.28" y="804.38" width="6.2" height="6.2"/><rect x="265.1" y="806.08" width="6.2" height="6.2"/><rect x="260.91" y="808.19" width="6.2" height="6.2"/><rect x="256.73" y="810.33" width="6.2" height="6.2"/><rect x="252.55" y="813" width="6.2" height="6.2"/><rect x="248.37" y="817.03" width="6.2" height="6.2"/><rect x="244.19" y="822.44" width="6.2" height="6.2"/><rect x="240.01" y="828.1" width="6.2" height="6.2"/><rect x="235.5" y="1073.5" width="6.2" height="6.2"/><rect x="231.65" y="1075.27" width="6.2" height="6.2"/><rect x="227.47" y="1075.25" width="6.2" height="6.2"/><rect x="223.29" y="1075.23" width="6.2" height="6.2"/><rect x="219.11" y="1075.21" width="6.2" height="6.2"/><rect x="214.93" y="1075.19" width="6.2" height="6.2"/><rect x="210.75" y="1075.17" width="6.2" height="6.2"/><rect x="206.57" y="1075.15" width="6.2" height="6.2"/><rect x="202.39" y="1075.13" width="6.2" height="6.2"/><rect x="198.21" y="1075.11" width="6.2" height="6.2"/><rect x="194.03" y="1075.09" width="6.2" height="6.2"/><rect x="189.85" y="1075.07" width="6.2" height="6.2"/><rect x="185.67" y="1075.05" width="6.2" height="6.2"/><rect x="181.49" y="1075.03" width="6.2" height="6.2"/><rect x="177.31" y="1075.01" width="6.2" height="6.2"/><rect x="173.12" y="1074.99" width="6.2" height="6.2"/><rect x="168.94" y="1074.96" width="6.2" height="6.2"/><rect x="164.76" y="1074.94" width="6.2" height="6.2"/><rect x="160.58" y="1074.92" width="6.2" height="6.2"/><rect x="156.4" y="1074.9" width="6.2" height="6.2"/><rect x="152.22" y="1074.88" width="6.2" height="6.2"/><rect x="148.04" y="1074.86" width="6.2" height="6.2"/><rect x="143.86" y="1074.84" width="6.2" height="6.2"/><rect x="139.68" y="1074.82" width="6.2" height="6.2"/><rect x="135.5" y="1074.8" width="6.2" height="6.2"/><rect x="135.5" y="1074.8" width="6.2" height="6.2"/><rect x="139.68" y="1074.82" width="6.2" height="6.2"/><rect x="143.86" y="1074.84" width="6.2" height="6.2"/><rect x="148.04" y="1074.86" width="6.2" height="6.2"/><rect x="152.22" y="1074.88" width="6.2" height="6.2"/><rect x="156.4" y="1074.9" width="6.2" height="6.2"/><rect x="160.58" y="1074.92" width="6.2" height="6.2"/><rect x="164.76" y="1074.94" width="6.2" height="6.2"/><rect x="168.94" y="1074.96" width="6.2" height="6.2"/><rect x="173.12" y="1074.99" width="6.2" height="6.2"/><rect x="177.31" y="1075.01" width="6.2" height="6.2"/><rect x="181.49" y="1075.03" width="6.2" height="6.2"/><rect x="185.67" y="1075.05" width="6.2" height="6.2"/><rect x="189.85" y="1075.07" width="6.2" height="6.2"/><rect x="194.03" y="1075.09" width="6.2" height="6.2"/><rect x="198.21" y="1075.11" width="6.2" height="6.2"/><rect x="202.39" y="1075.13" width="6.2" height="6.2"/><rect x="206.57" y="1075.15" width="6.2" height="6.2"/><rect x="210.75" y="1075.17" width="6.2" height="6.2"/><rect x="214.93" y="1075.19" width="6.2" height="6.2"/><rect x="219.11" y="1075.21" width="6.2" height="6.2"/><rect x="223.29" y="1075.23" width="6.2" height="6.2"/><rect x="227.47" y="1075.25" width="6.2" height="6.2"/><rect x="231.65" y="1075.27" width="6.2" height="6.2"/><rect x="235.83" y="1075.29" width="6.2" height="6.2"/><rect x="240.01" y="1075.36" width="6.2" height="6.2"/><rect x="244.19" y="1075.43" width="6.2" height="6.2"/><rect x="248.37" y="1075.51" width="6.2" height="6.2"/><rect x="252.55" y="1075.58" width="6.2" height="6.2"/><rect x="256.73" y="1075.66" width="6.2" height="6.2"/><rect x="260.91" y="1075.73" width="6.2" height="6.2"/><rect x="265.1" y="1075.81" width="6.2" height="6.2"/><rect x="269.28" y="1075.88" width="6.2" height="6.2"/><rect x="273.46" y="1075.96" width="6.2" height="6.2"/><rect x="277.64" y="1076.03" width="6.2" height="6.2"/><rect x="281.82" y="1076.11" width="6.2" height="6.2"/><rect x="286" y="1076.18" width="6.2" height="6.2"/><rect x="290.18" y="1076.26" width="6.2" height="6.2"/><rect x="294.36" y="1076.33" width="6.2" height="6.2"/><rect x="298.54" y="1076.41" width="6.2" height="6.2"/><rect x="302.72" y="1076.48" width="6.2" height="6.2"/><rect x="306.9" y="1076.56" width="6.2" height="6.2"/><rect x="311.08" y="1076.64" width="6.2" height="6.2"/><rect x="315.26" y="1076.71" width="6.2" height="6.2"/><rect x="319.44" y="1076.79" width="6.2" height="6.2"/><rect x="323.62" y="1076.86" width="6.2" height="6.2"/><rect x="327.8" y="1076.94" width="6.2" height="6.2"/><rect x="331.98" y="1077.01" width="6.2" height="6.2"/><rect x="336.16" y="1077.09" width="6.2" height="6.2"/><rect x="340.34" y="1077.16" width="6.2" height="6.2"/><rect x="344.52" y="1077.24" width="6.2" height="6.2"/><rect x="348.71" y="1077.31" width="6.2" height="6.2"/><rect x="352.89" y="1077.39" width="6.2" height="6.2"/><rect x="357.07" y="1077.46" width="6.2" height="6.2"/><rect x="361.25" y="1077.54" width="6.2" height="6.2"/><rect x="365.43" y="1077.61" width="6.2" height="6.2"/><rect x="369.61" y="1077.69" width="6.2" height="6.2"/><rect x="373.79" y="1077.76" width="6.2" height="6.2"/><rect x="377.97" y="1077.84" width="6.2" height="6.2"/><rect x="382.15" y="1077.91" width="6.2" height="6.2"/><rect x="386.33" y="1077.99" width="6.2" height="6.2"/><rect x="390.51" y="1078.06" width="6.2" height="6.2"/><rect x="394.69" y="1078.14" width="6.2" height="6.2"/><rect x="398.87" y="1078.22" width="6.2" height="6.2"/><rect x="403.05" y="1078.29" width="6.2" height="6.2"/><rect x="407.23" y="1078.37" width="6.2" height="6.2"/><rect x="411.41" y="1078.44" width="6.2" height="6.2"/><rect x="415.59" y="1078.52" width="6.2" height="6.2"/><rect x="419.77" y="1078.59" width="6.2" height="6.2"/><rect x="423.95" y="1078.67" width="6.2" height="6.2"/><rect x="428.13" y="1078.74" width="6.2" height="6.2"/><rect x="432.32" y="1078.82" width="6.2" height="6.2"/><rect x="436.5" y="1078.89" width="6.2" height="6.2"/><rect x="440.68" y="1078.98" width="6.2" height="6.2"/><rect x="444.86" y="1079.06" width="6.2" height="6.2"/><rect x="449.04" y="1079.15" width="6.2" height="6.2"/><rect x="453.22" y="1079.24" width="6.2" height="6.2"/><rect x="457.4" y="1079.32" width="6.2" height="6.2"/><rect x="461.58" y="1079.41" width="6.2" height="6.2"/><rect x="465.76" y="1079.49" width="6.2" height="6.2"/><rect x="469.94" y="1079.58" width="6.2" height="6.2"/><rect x="474.12" y="1079.67" width="6.2" height="6.2"/><rect x="478.3" y="1079.75" width="6.2" height="6.2"/><rect x="482.48" y="1079.84" width="6.2" height="6.2"/><rect x="486.66" y="1079.92" width="6.2" height="6.2"/><rect x="490.84" y="1080.01" width="6.2" height="6.2"/><rect x="495.02" y="1080.1" width="6.2" height="6.2"/><rect x="499.2" y="1080.18" width="6.2" height="6.2"/><rect x="503.38" y="1080.27" width="6.2" height="6.2"/><rect x="507.56" y="1080.35" width="6.2" height="6.2"/><rect x="511.75" y="1080.44" width="6.2" height="6.2"/><rect x="515.93" y="1080.53" width="6.2" height="6.2"/><rect x="520.11" y="1080.61" width="6.2" height="6.2"/><rect x="524.29" y="1080.7" width="6.2" height="6.2"/><rect x="528.47" y="1080.78" width="6.2" height="6.2"/><rect x="532.65" y="1080.87" width="6.2" height="6.2"/><rect x="536.83" y="1080.96" width="6.2" height="6.2"/><rect x="541.01" y="1081.04" width="6.2" height="6.2"/><rect x="545.19" y="1081.13" width="6.2" height="6.2"/><rect x="549.37" y="1081.21" width="6.2" height="6.2"/><rect x="553.55" y="1081.3" width="6.2" height="6.2"/><rect x="557.73" y="1081.39" width="6.2" height="6.2"/><rect x="561.91" y="1081.47" width="6.2" height="6.2"/><rect x="566.09" y="1081.56" width="6.2" height="6.2"/><rect x="570.27" y="1081.64" width="6.2" height="6.2"/><rect x="574.45" y="1081.73" width="6.2" height="6.2"/><rect x="578.63" y="1081.82" width="6.2" height="6.2"/><rect x="582.81" y="1081.9" width="6.2" height="6.2"/><rect x="586.99" y="1081.99" width="6.2" height="6.2"/><rect x="591.17" y="1082.07" width="6.2" height="6.2"/><rect x="595.36" y="1082.16" width="6.2" height="6.2"/><rect x="599.54" y="1082.28" width="6.2" height="6.2"/><rect x="603.72" y="1082.43" width="6.2" height="6.2"/><rect x="607.9" y="1082.58" width="6.2" height="6.2"/><rect x="612.08" y="1082.74" width="6.2" height="6.2"/><rect x="616.26" y="1082.89" width="6.2" height="6.2"/><rect x="620.44" y="1083.04" width="6.2" height="6.2"/><rect x="624.62" y="1083.19" width="6.2" height="6.2"/><rect x="628.8" y="1083.34" width="6.2" height="6.2"/><rect x="632.98" y="1083.49" width="6.2" height="6.2"/><rect x="637.16" y="1083.65" width="6.2" height="6.2"/><rect x="641.34" y="1083.8" width="6.2" height="6.2"/><rect x="645.52" y="1083.95" width="6.2" height="6.2"/><rect x="649.7" y="1084.04" width="6.2" height="6.2"/><rect x="653.88" y="1084.09" width="6.2" height="6.2"/><rect x="658.06" y="1084.15" width="6.2" height="6.2"/><rect x="662.24" y="1084.2" width="6.2" height="6.2"/><rect x="666.42" y="1084.26" width="6.2" height="6.2"/><rect x="670.6" y="1084.19" width="6.2" height="6.2"/><rect x="674.78" y="1083.82" width="6.2" height="6.2"/><rect x="678.97" y="1083.45" width="6.2" height="6.2"/><rect x="683.15" y="1083.03" width="6.2" height="6.2"/><rect x="691.1" y="1079.2" width="6.2" height="6.2"/><rect x="695.4" y="1075.8" width="6.2" height="6.2"/><rect x="699.6" y="1071.6" width="6.2" height="6.2"/><rect x="703.8" y="1065.9" width="6.2" height="6.2"/><rect x="707.8" y="1051.8" width="6.2" height="6.2"/><rect x="711.7" y="905.5" width="6.2" height="6.2"/><rect x="716.2" y="733.5" width="6.2" height="6.2"/><rect x="720.5" y="752.9" width="6.2" height="6.2"/><rect x="724.7" y="772.4" width="6.2" height="6.2"/><rect x="728.9" y="792.9" width="6.2" height="6.2"/><rect x="732.9" y="814.9" width="6.2" height="6.2"/><rect x="737.1" y="838.6" width="6.2" height="6.2"/><rect x="741.2" y="864.2" width="6.2" height="6.2"/><rect x="745.6" y="892.9" width="6.2" height="6.2"/><rect x="749.8" y="924.7" width="6.2" height="6.2"/><rect x="754" y="961.3" width="6.2" height="6.2"/><rect x="758.1" y="1002.6" width="6.2" height="6.2"/><rect x="762.7" y="1047.7" width="6.2" height="6.2"/><rect x="766.5" y="1093.5" width="6.2" height="6.2"/><rect x="770.5" y="1135.4" width="6.2" height="6.2"/><rect x="774.8" y="1171.9" width="6.2" height="6.2"/><rect x="779.1" y="1201.8" width="6.2" height="6.2"/><rect x="782.9" y="1223.7" width="6.2" height="6.2"/><rect x="787.2" y="1232.2" width="6.2" height="6.2"/><rect x="791.5" y="1237.2" width="6.2" height="6.2"/><rect x="795.4" y="1251.5" width="6.2" height="6.2"/><rect x="799.6" y="1275.3" width="6.2" height="6.2"/><rect x="803.9" y="1300.8" width="6.2" height="6.2"/><rect x="808.2" y="1321.7" width="6.2" height="6.2"/><rect x="812.5" y="1338.4" width="6.2" height="6.2"/><rect x="816.6" y="1352.1" width="6.2" height="6.2"/><rect x="820.8" y="1366.3" width="6.2" height="6.2"/><rect x="825.28" y="1370.12" width="6.2" height="6.2"/><rect x="829.46" y="1371.53" width="6.2" height="6.2"/><rect x="833.64" y="1371.66" width="6.2" height="6.2"/><rect x="837.82" y="1371.27" width="6.2" height="6.2"/><rect x="842" y="1370.89" width="6.2" height="6.2"/><rect x="846.18" y="1370.59" width="6.2" height="6.2"/><rect x="850.37" y="1370.29" width="6.2" height="6.2"/><rect x="854.55" y="1369.99" width="6.2" height="6.2"/><rect x="858.73" y="1369.69" width="6.2" height="6.2"/><rect x="862.91" y="1369.39" width="6.2" height="6.2"/><rect x="867.09" y="1369.09" width="6.2" height="6.2"/><rect x="871.27" y="1368.92" width="6.2" height="6.2"/><rect x="875.45" y="1368.75" width="6.2" height="6.2"/><rect x="879.63" y="1368.58" width="6.2" height="6.2"/><rect x="883.81" y="1368.41" width="6.2" height="6.2"/><rect x="887.99" y="1368.24" width="6.2" height="6.2"/><rect x="892.17" y="1368.06" width="6.2" height="6.2"/><rect x="896.35" y="1367.89" width="6.2" height="6.2"/><rect x="900.53" y="1367.76" width="6.2" height="6.2"/><rect x="904.71" y="1367.67" width="6.2" height="6.2"/><rect x="908.89" y="1367.57" width="6.2" height="6.2"/><rect x="913.07" y="1367.48" width="6.2" height="6.2"/><rect x="917.25" y="1367.39" width="6.2" height="6.2"/><rect x="921.43" y="1367.3" width="6.2" height="6.2"/><rect x="925.61" y="1367.21" width="6.2" height="6.2"/><rect x="929.79" y="1367.11" width="6.2" height="6.2"/><rect x="933.98" y="1367.02" width="6.2" height="6.2"/><rect x="938.16" y="1366.93" width="6.2" height="6.2"/><rect x="942.34" y="1366.84" width="6.2" height="6.2"/><rect x="946.52" y="1366.75" width="6.2" height="6.2"/><rect x="950.7" y="1366.65" width="6.2" height="6.2"/><rect x="954.88" y="1366.56" width="6.2" height="6.2"/><rect x="959.06" y="1366.47" width="6.2" height="6.2"/><rect x="963.24" y="1366.38" width="6.2" height="6.2"/><rect x="967.42" y="1366.29" width="6.2" height="6.2"/><rect x="971.6" y="1366.19" width="6.2" height="6.2"/><rect x="975.78" y="1366.1" width="6.2" height="6.2"/><rect x="979.96" y="1366.01" width="6.2" height="6.2"/><rect x="984.14" y="1365.85" width="6.2" height="6.2"/><rect x="988.32" y="1365.68" width="6.2" height="6.2"/><rect x="992.5" y="1365.51" width="6.2" height="6.2"/><rect x="996.68" y="1365.34" width="6.2" height="6.2"/><rect x="1000.86" y="1365.17" width="6.2" height="6.2"/><rect x="1005.04" y="1365" width="6.2" height="6.2"/><rect x="1009.22" y="1364.84" width="6.2" height="6.2"/><rect x="1013.41" y="1364.67" width="6.2" height="6.2"/><rect x="1017.59" y="1364.5" width="6.2" height="6.2"/><rect x="1021.77" y="1364.33" width="6.2" height="6.2"/><rect x="1025.95" y="1364.16" width="6.2" height="6.2"/><rect x="1030.13" y="1363.99" width="6.2" height="6.2"/><rect x="1034.31" y="1363.82" width="6.2" height="6.2"/><rect x="1038.49" y="1363.65" width="6.2" height="6.2"/><rect x="1042.67" y="1363.48" width="6.2" height="6.2"/><rect x="1046.85" y="1363.32" width="6.2" height="6.2"/><rect x="1051.03" y="1363.15" width="6.2" height="6.2"/><rect x="1055.21" y="1362.98" width="6.2" height="6.2"/><rect x="1059.39" y="1362.81" width="6.2" height="6.2"/><rect x="1063.57" y="1362.61" width="6.2" height="6.2"/><rect x="1067.75" y="1362.37" width="6.2" height="6.2"/><rect x="1071.93" y="1362.13" width="6.2" height="6.2"/><rect x="1076.11" y="1361.89" width="6.2" height="6.2"/><rect x="1080.29" y="1361.65" width="6.2" height="6.2"/><rect x="1084.47" y="1361.4" width="6.2" height="6.2"/><rect x="1088.65" y="1361.16" width="6.2" height="6.2"/><rect x="1092.83" y="1360.92" width="6.2" height="6.2"/><rect x="1097.02" y="1360.68" width="6.2" height="6.2"/><rect x="1101.2" y="1360.43" width="6.2" height="6.2"/><rect x="1105.38" y="1360.19" width="6.2" height="6.2"/><rect x="1109.56" y="1359.95" width="6.2" height="6.2"/><rect x="1113.74" y="1359.71" width="6.2" height="6.2"/><rect x="1117.92" y="1359.42" width="6.2" height="6.2"/><rect x="1122.1" y="1358.84" width="6.2" height="6.2"/><rect x="1126.28" y="1358.26" width="6.2" height="6.2"/><rect x="1130.46" y="1357.69" width="6.2" height="6.2"/><rect x="1134.64" y="1357.11" width="6.2" height="6.2"/><rect x="1138.82" y="1356.54" width="6.2" height="6.2"/><rect x="1143" y="1355.96" width="6.2" height="6.2"/><rect x="1147.18" y="1355.39" width="6.2" height="6.2"/><rect x="1151.36" y="1354.81" width="6.2" height="6.2"/><rect x="1155.54" y="1354.24" width="6.2" height="6.2"/><rect x="1159.72" y="1353.66" width="6.2" height="6.2"/><rect x="1163.9" y="1353.09" width="6.2" height="6.2"/><rect x="1168.08" y="1352.51" width="6.2" height="6.2"/><rect x="1172.26" y="1351.94" width="6.2" height="6.2"/><rect x="1176.44" y="1351.36" width="6.2" height="6.2"/><rect x="1180.62" y="1350.56" width="6.2" height="6.2"/><rect x="1184.81" y="1349.73" width="6.2" height="6.2"/><rect x="1188.99" y="1348.9" width="6.2" height="6.2"/><rect x="1193.17" y="1348.08" width="6.2" height="6.2"/><rect x="1197.35" y="1347.25" width="6.2" height="6.2"/><rect x="1201.53" y="1346.42" width="6.2" height="6.2"/><rect x="1205.71" y="1345.59" width="6.2" height="6.2"/><rect x="1209.89" y="1344.76" width="6.2" height="6.2"/><rect x="1214.07" y="1343.87" width="6.2" height="6.2"/><rect x="1218.25" y="1342.97" width="6.2" height="6.2"/><rect x="1222.43" y="1342.06" width="6.2" height="6.2"/><rect x="1226.61" y="1341.15" width="6.2" height="6.2"/><rect x="1230.79" y="1340.25" width="6.2" height="6.2"/><rect x="1234.97" y="1339.34" width="6.2" height="6.2"/><rect x="1239.15" y="1337.83" width="6.2" height="6.2"/><rect x="1243.33" y="1336.09" width="6.2" height="6.2"/><rect x="1247.51" y="1334.35" width="6.2" height="6.2"/><rect x="1251.69" y="1332.61" width="6.2" height="6.2"/><rect x="1255.87" y="1330.87" width="6.2" height="6.2"/><rect x="1260.05" y="1329.13" width="6.2" height="6.2"/><rect x="1264.24" y="1327.12" width="6.2" height="6.2"/><rect x="1268.42" y="1324.49" width="6.2" height="6.2"/><rect x="1272.6" y="1321.63" width="6.2" height="6.2"/><rect x="1276.78" y="1318.37" width="6.2" height="6.2"/><rect x="1280.96" y="1314.42" width="6.2" height="6.2"/><rect x="1285.14" y="1309.7" width="6.2" height="6.2"/><rect x="1289.32" y="1063.7" width="6.2" height="6.2"/><rect x="1293.5" y="1063.68" width="6.2" height="6.2"/><rect x="1297.68" y="1063.66" width="6.2" height="6.2"/><rect x="1301.86" y="1063.64" width="6.2" height="6.2"/><rect x="1306.04" y="1063.61" width="6.2" height="6.2"/><rect x="1310.22" y="1063.59" width="6.2" height="6.2"/><rect x="1314.4" y="1063.57" width="6.2" height="6.2"/><rect x="1318.58" y="1063.55" width="6.2" height="6.2"/><rect x="1322.76" y="1063.53" width="6.2" height="6.2"/><rect x="1326.94" y="1063.51" width="6.2" height="6.2"/><rect x="1331.12" y="1063.49" width="6.2" height="6.2"/><rect x="1335.3" y="1063.47" width="6.2" height="6.2"/><rect x="1339.48" y="1063.45" width="6.2" height="6.2"/><rect x="1343.66" y="1063.43" width="6.2" height="6.2"/><rect x="1347.85" y="1063.41" width="6.2" height="6.2"/><rect x="1352.03" y="1063.39" width="6.2" height="6.2"/><rect x="1356.21" y="1063.37" width="6.2" height="6.2"/><rect x="1360.39" y="1063.35" width="6.2" height="6.2"/><rect x="1364.57" y="1063.32" width="6.2" height="6.2"/><rect x="1368.75" y="1063.3" width="6.2" height="6.2"/><rect x="1372.93" y="1063.28" width="6.2" height="6.2"/><rect x="1377.11" y="1063.26" width="6.2" height="6.2"/><rect x="1381.29" y="1063.24" width="6.2" height="6.2"/><rect x="1385.47" y="1063.22" width="6.2" height="6.2"/></g>
<rect x="1118.8" y="1359.5" width="3.2" height="6.2" fill="#f00"/>
</g>
<line x1="533.6" y1="762.6" x2="489" y2="762.6" stroke="#f00" stroke-width="2.8" stroke-linecap="round"/><polygon points="477.6,762.6 490,758.2 489,762.6 490,767" fill="#f00" stroke="#f00" stroke-width="0.8" stroke-linejoin="round"/>
<line x1="475.3" y1="1069.5" x2="518.22" y2="1066.81" stroke="#f00" stroke-width="2.8" stroke-linecap="round"/><polygon points="529.6,1066.1 517.5,1071.27 518.22,1066.81 516.95,1062.48" fill="#f00" stroke="#f00" stroke-width="0.8" stroke-linejoin="round"/>
<line x1="1017.4" y1="1386.3" x2="1060.02" y2="1383.7" stroke="#f00" stroke-width="2.8" stroke-linecap="round"/><polygon points="1071.4,1383 1059.29,1388.15 1060.02,1383.7 1058.75,1379.36" fill="#f00" stroke="#f00" stroke-width="0.8" stroke-linejoin="round"/>
<line x1="1048.9" y1="1075" x2="1005.3" y2="1075" stroke="#f00" stroke-width="2.8" stroke-linecap="round"/><polygon points="993.9,1075 1006.3,1070.6 1005.3,1075 1006.3,1079.4" fill="#f00" stroke="#f00" stroke-width="0.8" stroke-linejoin="round"/>
<line x1="196.7" y1="1046.9" x2="183.47" y2="1067.13" stroke="#000" stroke-width="2" stroke-linecap="round"/><polygon points="178,1075.5 180.92,1064.27 183.47,1067.13 187.12,1068.32" fill="#000" stroke="#000" stroke-width="0.8" stroke-linejoin="round"/>
<line x1="664" y1="1033.6" x2="696.45" y2="1048.85" stroke="#000" stroke-width="2" stroke-linecap="round"/><polygon points="705.5,1053.1 693.97,1051.77 696.45,1048.85 697.12,1045.07" fill="#000" stroke="#000" stroke-width="0.8" stroke-linejoin="round"/>
<line x1="677.4" y1="910.6" x2="702.55" y2="906.22" stroke="#000" stroke-width="2" stroke-linecap="round"/><polygon points="712.4,904.5 702.2,910.03 702.55,906.22 700.93,902.74" fill="#000" stroke="#000" stroke-width="0.8" stroke-linejoin="round"/>
<line x1="745.1" y1="744.4" x2="732" y2="740.11" stroke="#000" stroke-width="2" stroke-linecap="round"/><polygon points="722.5,737 734.11,736.91 732,740.11 731.8,743.94" fill="#000" stroke="#000" stroke-width="0.8" stroke-linejoin="round"/>
<line x1="741" y1="1095.5" x2="757.09" y2="1061.82" stroke="#000" stroke-width="2" stroke-linecap="round"/><polygon points="761.4,1052.8 760,1064.32 757.09,1061.82 753.32,1061.13" fill="#000" stroke="#000" stroke-width="0.8" stroke-linejoin="round"/>
<line x1="865.4" y1="1404.1" x2="837.13" y2="1386.82" stroke="#000" stroke-width="2" stroke-linecap="round"/><polygon points="828.6,1381.6 839.91,1384.18 837.13,1386.82 836.05,1390.49" fill="#000" stroke="#000" stroke-width="0.8" stroke-linejoin="round"/>
<line x1="858.4" y1="1317.1" x2="835.2" y2="1361.92" stroke="#000" stroke-width="2" stroke-linecap="round"/><polygon points="830.6,1370.8 832.37,1359.33 835.2,1361.92 838.94,1362.73" fill="#000" stroke="#000" stroke-width="0.8" stroke-linejoin="round"/>
<line x1="1319.9" y1="1024.3" x2="1297.82" y2="1054.34" stroke="#000" stroke-width="2" stroke-linecap="round"/><polygon points="1291.9,1062.4 1295.43,1051.35 1297.82,1054.34 1301.4,1055.73" fill="#000" stroke="#000" stroke-width="0.8" stroke-linejoin="round"/>
<line x1="1318" y1="1102.1" x2="1319.29" y2="1080.78" stroke="#000" stroke-width="2" stroke-linecap="round"/><polygon points="1319.9,1070.8 1322.93,1082 1319.29,1080.78 1315.54,1081.56" fill="#000" stroke="#000" stroke-width="0.8" stroke-linejoin="round"/>
<text x="196.2" y="1043.6" font-size="36" fill="#000" >a</text>
<text x="642.9" y="1038.4" font-size="31" fill="#000" >b</text>
<text x="654.55" y="918.3" font-size="31" fill="#000" >c</text>
<text x="746.65" y="764.5" font-size="31.5" fill="#000" >d</text>
<text x="724.55" y="1113.6" font-size="31" fill="#000" >e</text>
<text x="864.9" y="1408.8" font-size="31" fill="#000" >f</text>
<text x="1312" y="1134.9" font-size="36" fill="#000" >g</text>
<text x="841.95" y="1285.6" font-size="42" font-style="italic" fill="#000" >H</text>
<text x="872.75" y="1295.8" font-size="25" fill="#000" >n</text>
<text x="1303.05" y="990.7" font-size="43" font-style="italic" fill="#000" >H</text>
<text x="1332.9" y="1002.1" font-size="26" fill="#000" >an</text>
<text x="306.85" y="872.6" font-size="42" fill="#000" stroke="#000" stroke-width="0.5">a</text>
<text x="529.25" y="872.6" font-size="42" fill="#000" stroke="#000" stroke-width="0.5">b</text>
<text x="880.95" y="857.8" font-size="42" fill="#000" stroke="#000" stroke-width="0.5">c</text>
<text x="1166.05" y="856.3" font-size="42" fill="#000" stroke="#000" stroke-width="0.5">d</text>
<text x="228.25" y="1198.3" font-size="42" fill="#000" stroke="#000" stroke-width="0.5">e</text>
<text x="540.8" y="1203.6" font-size="42" fill="#000" stroke="#000" stroke-width="0.5">f</text>
<text x="1024.35" y="1183.5" font-size="42" fill="#000" stroke="#000" stroke-width="0.5">g</text>
</svg></body></html>
